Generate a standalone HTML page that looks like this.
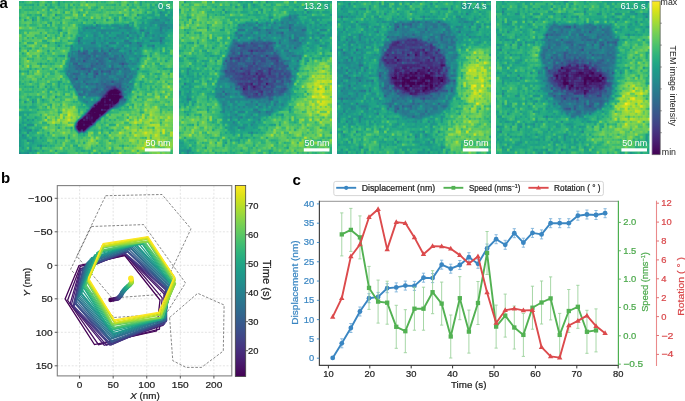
<!DOCTYPE html>
<html><head><meta charset="utf-8"><style>
html,body{margin:0;padding:0;background:#fff;width:685px;height:401px;overflow:hidden}
svg{display:block;opacity:0.999}
text{font-family:"Liberation Sans",sans-serif}
</style></head><body>
<svg width="685" height="401" viewBox="0 0 685 401" font-family="Liberation Sans, sans-serif">
<defs>
<pattern id="npt" width="81.9" height="81.9" patternUnits="userSpaceOnUse"><path d="M35.84 12.80h2.56v2.56h-2.56zM12.80 17.92h2.56v2.56h-2.56zM74.24 20.48h2.56v2.56h-2.56zM76.80 23.04h2.56v2.56h-2.56zM38.40 28.16h2.56v2.56h-2.56zM40.96 28.16h2.56v2.56h-2.56zM58.88 38.40h2.56v2.56h-2.56zM38.40 43.52h2.56v2.56h-2.56zM51.20 43.52h2.56v2.56h-2.56zM10.24 46.08h2.56v2.56h-2.56zM20.48 61.44h2.56v2.56h-2.56zM76.80 71.68h2.56v2.56h-2.56zM56.32 76.80h2.56v2.56h-2.56z" fill="#000000"/><path d="M23.04 15.36h2.56v2.56h-2.56zM5.12 17.92h2.56v2.56h-2.56zM28.16 40.96h2.56v2.56h-2.56zM28.16 48.64h2.56v2.56h-2.56zM64.00 51.20h2.56v2.56h-2.56zM43.52 53.76h2.56v2.56h-2.56zM64.00 58.88h2.56v2.56h-2.56zM0.00 69.12h2.56v2.56h-2.56zM7.68 69.12h2.56v2.56h-2.56z" fill="#111111"/><path d="M38.40 0.00h2.56v2.56h-2.56zM25.60 2.56h2.56v2.56h-2.56zM38.40 2.56h2.56v2.56h-2.56zM76.80 5.12h2.56v2.56h-2.56zM58.88 10.24h2.56v2.56h-2.56zM20.48 12.80h2.56v2.56h-2.56zM30.72 20.48h2.56v2.56h-2.56zM25.60 33.28h2.56v2.56h-2.56zM35.84 40.96h2.56v2.56h-2.56zM71.68 40.96h2.56v2.56h-2.56zM74.24 40.96h2.56v2.56h-2.56zM5.12 43.52h2.56v2.56h-2.56zM2.56 51.20h2.56v2.56h-2.56zM40.96 53.76h2.56v2.56h-2.56zM48.64 53.76h2.56v2.56h-2.56zM10.24 66.56h2.56v2.56h-2.56zM35.84 66.56h2.56v2.56h-2.56zM69.12 69.12h2.56v2.56h-2.56zM46.08 71.68h2.56v2.56h-2.56zM74.24 74.24h2.56v2.56h-2.56zM10.24 79.36h2.56v2.56h-2.56zM38.40 79.36h2.56v2.56h-2.56z" fill="#222222"/><path d="M66.56 0.00h2.56v2.56h-2.56zM12.80 2.56h2.56v2.56h-2.56zM28.16 7.68h2.56v2.56h-2.56zM43.52 10.24h2.56v2.56h-2.56zM12.80 15.36h2.56v2.56h-2.56zM66.56 17.92h2.56v2.56h-2.56zM25.60 23.04h2.56v2.56h-2.56zM64.00 23.04h2.56v2.56h-2.56zM58.88 25.60h2.56v2.56h-2.56zM66.56 25.60h2.56v2.56h-2.56zM74.24 25.60h2.56v2.56h-2.56zM58.88 28.16h2.56v2.56h-2.56zM46.08 30.72h2.56v2.56h-2.56zM43.52 33.28h2.56v2.56h-2.56zM58.88 35.84h2.56v2.56h-2.56zM23.04 38.40h2.56v2.56h-2.56zM25.60 38.40h2.56v2.56h-2.56zM7.68 40.96h2.56v2.56h-2.56zM10.24 40.96h2.56v2.56h-2.56zM12.80 40.96h2.56v2.56h-2.56zM46.08 43.52h2.56v2.56h-2.56zM0.00 46.08h2.56v2.56h-2.56zM7.68 48.64h2.56v2.56h-2.56zM58.88 48.64h2.56v2.56h-2.56zM23.04 51.20h2.56v2.56h-2.56zM20.48 53.76h2.56v2.56h-2.56zM7.68 56.32h2.56v2.56h-2.56zM25.60 61.44h2.56v2.56h-2.56zM56.32 61.44h2.56v2.56h-2.56zM15.36 66.56h2.56v2.56h-2.56zM61.44 66.56h2.56v2.56h-2.56zM64.00 66.56h2.56v2.56h-2.56zM5.12 69.12h2.56v2.56h-2.56zM40.96 69.12h2.56v2.56h-2.56zM43.52 69.12h2.56v2.56h-2.56zM74.24 69.12h2.56v2.56h-2.56zM53.76 71.68h2.56v2.56h-2.56zM66.56 71.68h2.56v2.56h-2.56zM23.04 74.24h2.56v2.56h-2.56zM40.96 79.36h2.56v2.56h-2.56z" fill="#333333"/><path d="M2.56 0.00h2.56v2.56h-2.56zM28.16 0.00h2.56v2.56h-2.56zM43.52 0.00h2.56v2.56h-2.56zM76.80 0.00h2.56v2.56h-2.56zM5.12 2.56h2.56v2.56h-2.56zM10.24 2.56h2.56v2.56h-2.56zM17.92 2.56h2.56v2.56h-2.56zM30.72 2.56h2.56v2.56h-2.56zM48.64 2.56h2.56v2.56h-2.56zM53.76 2.56h2.56v2.56h-2.56zM28.16 5.12h2.56v2.56h-2.56zM30.72 5.12h2.56v2.56h-2.56zM33.28 5.12h2.56v2.56h-2.56zM43.52 5.12h2.56v2.56h-2.56zM48.64 5.12h2.56v2.56h-2.56zM51.20 5.12h2.56v2.56h-2.56zM56.32 5.12h2.56v2.56h-2.56zM74.24 5.12h2.56v2.56h-2.56zM64.00 7.68h2.56v2.56h-2.56zM71.68 7.68h2.56v2.56h-2.56zM74.24 7.68h2.56v2.56h-2.56zM51.20 10.24h2.56v2.56h-2.56zM10.24 12.80h2.56v2.56h-2.56zM15.36 15.36h2.56v2.56h-2.56zM33.28 15.36h2.56v2.56h-2.56zM15.36 17.92h2.56v2.56h-2.56zM23.04 17.92h2.56v2.56h-2.56zM53.76 17.92h2.56v2.56h-2.56zM40.96 20.48h2.56v2.56h-2.56zM61.44 20.48h2.56v2.56h-2.56zM30.72 23.04h2.56v2.56h-2.56zM58.88 23.04h2.56v2.56h-2.56zM61.44 23.04h2.56v2.56h-2.56zM71.68 23.04h2.56v2.56h-2.56zM79.36 23.04h2.56v2.56h-2.56zM17.92 25.60h2.56v2.56h-2.56zM38.40 25.60h2.56v2.56h-2.56zM71.68 25.60h2.56v2.56h-2.56zM20.48 30.72h2.56v2.56h-2.56zM38.40 30.72h2.56v2.56h-2.56zM15.36 33.28h2.56v2.56h-2.56zM35.84 33.28h2.56v2.56h-2.56zM74.24 33.28h2.56v2.56h-2.56zM7.68 35.84h2.56v2.56h-2.56zM12.80 35.84h2.56v2.56h-2.56zM28.16 35.84h2.56v2.56h-2.56zM48.64 38.40h2.56v2.56h-2.56zM74.24 38.40h2.56v2.56h-2.56zM38.40 40.96h2.56v2.56h-2.56zM58.88 40.96h2.56v2.56h-2.56zM20.48 43.52h2.56v2.56h-2.56zM7.68 46.08h2.56v2.56h-2.56zM23.04 46.08h2.56v2.56h-2.56zM51.20 46.08h2.56v2.56h-2.56zM74.24 46.08h2.56v2.56h-2.56zM66.56 48.64h2.56v2.56h-2.56zM28.16 51.20h2.56v2.56h-2.56zM48.64 51.20h2.56v2.56h-2.56zM38.40 53.76h2.56v2.56h-2.56zM69.12 53.76h2.56v2.56h-2.56zM12.80 56.32h2.56v2.56h-2.56zM35.84 56.32h2.56v2.56h-2.56zM76.80 56.32h2.56v2.56h-2.56zM28.16 58.88h2.56v2.56h-2.56zM17.92 61.44h2.56v2.56h-2.56zM30.72 61.44h2.56v2.56h-2.56zM53.76 61.44h2.56v2.56h-2.56zM76.80 61.44h2.56v2.56h-2.56zM10.24 64.00h2.56v2.56h-2.56zM58.88 64.00h2.56v2.56h-2.56zM71.68 64.00h2.56v2.56h-2.56zM23.04 66.56h2.56v2.56h-2.56zM56.32 66.56h2.56v2.56h-2.56zM69.12 66.56h2.56v2.56h-2.56zM46.08 69.12h2.56v2.56h-2.56zM76.80 69.12h2.56v2.56h-2.56zM7.68 71.68h2.56v2.56h-2.56zM56.32 71.68h2.56v2.56h-2.56zM74.24 71.68h2.56v2.56h-2.56zM64.00 79.36h2.56v2.56h-2.56z" fill="#444444"/><path d="M0.00 0.00h2.56v2.56h-2.56zM17.92 0.00h2.56v2.56h-2.56zM30.72 0.00h2.56v2.56h-2.56zM51.20 0.00h2.56v2.56h-2.56zM71.68 0.00h2.56v2.56h-2.56zM58.88 2.56h2.56v2.56h-2.56zM23.04 5.12h2.56v2.56h-2.56zM40.96 5.12h2.56v2.56h-2.56zM10.24 7.68h2.56v2.56h-2.56zM35.84 7.68h2.56v2.56h-2.56zM48.64 7.68h2.56v2.56h-2.56zM28.16 10.24h2.56v2.56h-2.56zM69.12 10.24h2.56v2.56h-2.56zM79.36 10.24h2.56v2.56h-2.56zM7.68 12.80h2.56v2.56h-2.56zM15.36 12.80h2.56v2.56h-2.56zM28.16 12.80h2.56v2.56h-2.56zM61.44 12.80h2.56v2.56h-2.56zM66.56 12.80h2.56v2.56h-2.56zM0.00 15.36h2.56v2.56h-2.56zM40.96 15.36h2.56v2.56h-2.56zM64.00 15.36h2.56v2.56h-2.56zM56.32 17.92h2.56v2.56h-2.56zM64.00 17.92h2.56v2.56h-2.56zM28.16 20.48h2.56v2.56h-2.56zM5.12 23.04h2.56v2.56h-2.56zM10.24 23.04h2.56v2.56h-2.56zM12.80 23.04h2.56v2.56h-2.56zM15.36 23.04h2.56v2.56h-2.56zM38.40 23.04h2.56v2.56h-2.56zM69.12 23.04h2.56v2.56h-2.56zM23.04 25.60h2.56v2.56h-2.56zM25.60 25.60h2.56v2.56h-2.56zM28.16 25.60h2.56v2.56h-2.56zM0.00 28.16h2.56v2.56h-2.56zM2.56 28.16h2.56v2.56h-2.56zM0.00 30.72h2.56v2.56h-2.56zM28.16 30.72h2.56v2.56h-2.56zM33.28 30.72h2.56v2.56h-2.56zM51.20 33.28h2.56v2.56h-2.56zM61.44 35.84h2.56v2.56h-2.56zM79.36 35.84h2.56v2.56h-2.56zM2.56 38.40h2.56v2.56h-2.56zM40.96 38.40h2.56v2.56h-2.56zM51.20 38.40h2.56v2.56h-2.56zM0.00 40.96h2.56v2.56h-2.56zM23.04 40.96h2.56v2.56h-2.56zM25.60 40.96h2.56v2.56h-2.56zM40.96 40.96h2.56v2.56h-2.56zM48.64 43.52h2.56v2.56h-2.56zM15.36 46.08h2.56v2.56h-2.56zM17.92 46.08h2.56v2.56h-2.56zM35.84 46.08h2.56v2.56h-2.56zM64.00 46.08h2.56v2.56h-2.56zM0.00 48.64h2.56v2.56h-2.56zM33.28 48.64h2.56v2.56h-2.56zM64.00 48.64h2.56v2.56h-2.56zM74.24 48.64h2.56v2.56h-2.56zM58.88 51.20h2.56v2.56h-2.56zM61.44 51.20h2.56v2.56h-2.56zM66.56 51.20h2.56v2.56h-2.56zM74.24 51.20h2.56v2.56h-2.56zM5.12 53.76h2.56v2.56h-2.56zM33.28 53.76h2.56v2.56h-2.56zM74.24 53.76h2.56v2.56h-2.56zM10.24 56.32h2.56v2.56h-2.56zM23.04 56.32h2.56v2.56h-2.56zM51.20 56.32h2.56v2.56h-2.56zM53.76 56.32h2.56v2.56h-2.56zM66.56 56.32h2.56v2.56h-2.56zM35.84 58.88h2.56v2.56h-2.56zM79.36 58.88h2.56v2.56h-2.56zM0.00 61.44h2.56v2.56h-2.56zM23.04 61.44h2.56v2.56h-2.56zM33.28 61.44h2.56v2.56h-2.56zM20.48 64.00h2.56v2.56h-2.56zM79.36 66.56h2.56v2.56h-2.56zM2.56 69.12h2.56v2.56h-2.56zM30.72 69.12h2.56v2.56h-2.56zM30.72 71.68h2.56v2.56h-2.56zM33.28 71.68h2.56v2.56h-2.56zM58.88 71.68h2.56v2.56h-2.56zM46.08 74.24h2.56v2.56h-2.56zM56.32 74.24h2.56v2.56h-2.56zM20.48 76.80h2.56v2.56h-2.56zM53.76 76.80h2.56v2.56h-2.56zM0.00 79.36h2.56v2.56h-2.56z" fill="#555555"/><path d="M15.36 0.00h2.56v2.56h-2.56zM46.08 0.00h2.56v2.56h-2.56zM48.64 0.00h2.56v2.56h-2.56zM58.88 0.00h2.56v2.56h-2.56zM7.68 2.56h2.56v2.56h-2.56zM76.80 2.56h2.56v2.56h-2.56zM2.56 5.12h2.56v2.56h-2.56zM12.80 5.12h2.56v2.56h-2.56zM38.40 5.12h2.56v2.56h-2.56zM64.00 5.12h2.56v2.56h-2.56zM71.68 5.12h2.56v2.56h-2.56zM0.00 7.68h2.56v2.56h-2.56zM5.12 7.68h2.56v2.56h-2.56zM7.68 7.68h2.56v2.56h-2.56zM12.80 7.68h2.56v2.56h-2.56zM17.92 7.68h2.56v2.56h-2.56zM43.52 7.68h2.56v2.56h-2.56zM46.08 7.68h2.56v2.56h-2.56zM0.00 10.24h2.56v2.56h-2.56zM30.72 10.24h2.56v2.56h-2.56zM61.44 10.24h2.56v2.56h-2.56zM64.00 10.24h2.56v2.56h-2.56zM76.80 10.24h2.56v2.56h-2.56zM17.92 12.80h2.56v2.56h-2.56zM38.40 12.80h2.56v2.56h-2.56zM40.96 12.80h2.56v2.56h-2.56zM58.88 12.80h2.56v2.56h-2.56zM69.12 12.80h2.56v2.56h-2.56zM20.48 15.36h2.56v2.56h-2.56zM25.60 15.36h2.56v2.56h-2.56zM25.60 17.92h2.56v2.56h-2.56zM28.16 17.92h2.56v2.56h-2.56zM38.40 17.92h2.56v2.56h-2.56zM71.68 17.92h2.56v2.56h-2.56zM74.24 17.92h2.56v2.56h-2.56zM12.80 20.48h2.56v2.56h-2.56zM51.20 20.48h2.56v2.56h-2.56zM23.04 23.04h2.56v2.56h-2.56zM40.96 23.04h2.56v2.56h-2.56zM66.56 23.04h2.56v2.56h-2.56zM64.00 25.60h2.56v2.56h-2.56zM69.12 25.60h2.56v2.56h-2.56zM5.12 28.16h2.56v2.56h-2.56zM7.68 28.16h2.56v2.56h-2.56zM10.24 28.16h2.56v2.56h-2.56zM15.36 28.16h2.56v2.56h-2.56zM25.60 28.16h2.56v2.56h-2.56zM28.16 28.16h2.56v2.56h-2.56zM64.00 28.16h2.56v2.56h-2.56zM76.80 28.16h2.56v2.56h-2.56zM79.36 28.16h2.56v2.56h-2.56zM2.56 30.72h2.56v2.56h-2.56zM7.68 30.72h2.56v2.56h-2.56zM43.52 30.72h2.56v2.56h-2.56zM58.88 30.72h2.56v2.56h-2.56zM74.24 30.72h2.56v2.56h-2.56zM2.56 33.28h2.56v2.56h-2.56zM5.12 33.28h2.56v2.56h-2.56zM17.92 33.28h2.56v2.56h-2.56zM20.48 33.28h2.56v2.56h-2.56zM76.80 33.28h2.56v2.56h-2.56zM17.92 35.84h2.56v2.56h-2.56zM20.48 35.84h2.56v2.56h-2.56zM30.72 35.84h2.56v2.56h-2.56zM35.84 35.84h2.56v2.56h-2.56zM74.24 35.84h2.56v2.56h-2.56zM61.44 40.96h2.56v2.56h-2.56zM2.56 43.52h2.56v2.56h-2.56zM28.16 43.52h2.56v2.56h-2.56zM35.84 43.52h2.56v2.56h-2.56zM40.96 43.52h2.56v2.56h-2.56zM64.00 43.52h2.56v2.56h-2.56zM5.12 46.08h2.56v2.56h-2.56zM69.12 46.08h2.56v2.56h-2.56zM71.68 46.08h2.56v2.56h-2.56zM76.80 46.08h2.56v2.56h-2.56zM76.80 48.64h2.56v2.56h-2.56zM5.12 51.20h2.56v2.56h-2.56zM76.80 51.20h2.56v2.56h-2.56zM2.56 53.76h2.56v2.56h-2.56zM12.80 53.76h2.56v2.56h-2.56zM15.36 53.76h2.56v2.56h-2.56zM23.04 53.76h2.56v2.56h-2.56zM25.60 53.76h2.56v2.56h-2.56zM61.44 53.76h2.56v2.56h-2.56zM66.56 53.76h2.56v2.56h-2.56zM0.00 56.32h2.56v2.56h-2.56zM25.60 56.32h2.56v2.56h-2.56zM0.00 58.88h2.56v2.56h-2.56zM12.80 58.88h2.56v2.56h-2.56zM40.96 58.88h2.56v2.56h-2.56zM51.20 58.88h2.56v2.56h-2.56zM58.88 58.88h2.56v2.56h-2.56zM28.16 61.44h2.56v2.56h-2.56zM46.08 61.44h2.56v2.56h-2.56zM71.68 61.44h2.56v2.56h-2.56zM2.56 64.00h2.56v2.56h-2.56zM56.32 64.00h2.56v2.56h-2.56zM61.44 64.00h2.56v2.56h-2.56zM74.24 64.00h2.56v2.56h-2.56zM7.68 66.56h2.56v2.56h-2.56zM46.08 66.56h2.56v2.56h-2.56zM66.56 66.56h2.56v2.56h-2.56zM71.68 66.56h2.56v2.56h-2.56zM12.80 69.12h2.56v2.56h-2.56zM28.16 69.12h2.56v2.56h-2.56zM33.28 69.12h2.56v2.56h-2.56zM38.40 69.12h2.56v2.56h-2.56zM0.00 71.68h2.56v2.56h-2.56zM12.80 71.68h2.56v2.56h-2.56zM23.04 71.68h2.56v2.56h-2.56zM0.00 74.24h2.56v2.56h-2.56zM5.12 74.24h2.56v2.56h-2.56zM43.52 74.24h2.56v2.56h-2.56zM51.20 74.24h2.56v2.56h-2.56zM2.56 76.80h2.56v2.56h-2.56zM17.92 76.80h2.56v2.56h-2.56zM25.60 76.80h2.56v2.56h-2.56zM40.96 76.80h2.56v2.56h-2.56zM46.08 76.80h2.56v2.56h-2.56zM66.56 76.80h2.56v2.56h-2.56zM5.12 79.36h2.56v2.56h-2.56zM17.92 79.36h2.56v2.56h-2.56z" fill="#666666"/><path d="M5.12 0.00h2.56v2.56h-2.56zM40.96 0.00h2.56v2.56h-2.56zM56.32 0.00h2.56v2.56h-2.56zM69.12 0.00h2.56v2.56h-2.56zM74.24 0.00h2.56v2.56h-2.56zM0.00 2.56h2.56v2.56h-2.56zM2.56 2.56h2.56v2.56h-2.56zM40.96 2.56h2.56v2.56h-2.56zM43.52 2.56h2.56v2.56h-2.56zM56.32 2.56h2.56v2.56h-2.56zM79.36 2.56h2.56v2.56h-2.56zM7.68 5.12h2.56v2.56h-2.56zM15.36 5.12h2.56v2.56h-2.56zM58.88 5.12h2.56v2.56h-2.56zM61.44 5.12h2.56v2.56h-2.56zM66.56 5.12h2.56v2.56h-2.56zM79.36 5.12h2.56v2.56h-2.56zM56.32 7.68h2.56v2.56h-2.56zM69.12 7.68h2.56v2.56h-2.56zM76.80 7.68h2.56v2.56h-2.56zM71.68 10.24h2.56v2.56h-2.56zM74.24 10.24h2.56v2.56h-2.56zM46.08 12.80h2.56v2.56h-2.56zM48.64 12.80h2.56v2.56h-2.56zM51.20 12.80h2.56v2.56h-2.56zM10.24 15.36h2.56v2.56h-2.56zM43.52 15.36h2.56v2.56h-2.56zM58.88 15.36h2.56v2.56h-2.56zM61.44 15.36h2.56v2.56h-2.56zM69.12 15.36h2.56v2.56h-2.56zM74.24 15.36h2.56v2.56h-2.56zM0.00 17.92h2.56v2.56h-2.56zM20.48 17.92h2.56v2.56h-2.56zM35.84 17.92h2.56v2.56h-2.56zM40.96 17.92h2.56v2.56h-2.56zM51.20 17.92h2.56v2.56h-2.56zM76.80 17.92h2.56v2.56h-2.56zM15.36 20.48h2.56v2.56h-2.56zM20.48 20.48h2.56v2.56h-2.56zM48.64 20.48h2.56v2.56h-2.56zM56.32 20.48h2.56v2.56h-2.56zM58.88 20.48h2.56v2.56h-2.56zM66.56 20.48h2.56v2.56h-2.56zM79.36 20.48h2.56v2.56h-2.56zM0.00 23.04h2.56v2.56h-2.56zM35.84 23.04h2.56v2.56h-2.56zM48.64 23.04h2.56v2.56h-2.56zM56.32 23.04h2.56v2.56h-2.56zM20.48 25.60h2.56v2.56h-2.56zM30.72 25.60h2.56v2.56h-2.56zM33.28 25.60h2.56v2.56h-2.56zM40.96 25.60h2.56v2.56h-2.56zM61.44 25.60h2.56v2.56h-2.56zM79.36 25.60h2.56v2.56h-2.56zM12.80 28.16h2.56v2.56h-2.56zM33.28 28.16h2.56v2.56h-2.56zM35.84 28.16h2.56v2.56h-2.56zM30.72 30.72h2.56v2.56h-2.56zM61.44 30.72h2.56v2.56h-2.56zM76.80 30.72h2.56v2.56h-2.56zM38.40 33.28h2.56v2.56h-2.56zM56.32 33.28h2.56v2.56h-2.56zM2.56 35.84h2.56v2.56h-2.56zM5.12 38.40h2.56v2.56h-2.56zM10.24 38.40h2.56v2.56h-2.56zM53.76 38.40h2.56v2.56h-2.56zM66.56 38.40h2.56v2.56h-2.56zM79.36 38.40h2.56v2.56h-2.56zM17.92 40.96h2.56v2.56h-2.56zM20.48 40.96h2.56v2.56h-2.56zM43.52 40.96h2.56v2.56h-2.56zM0.00 43.52h2.56v2.56h-2.56zM17.92 43.52h2.56v2.56h-2.56zM61.44 43.52h2.56v2.56h-2.56zM66.56 43.52h2.56v2.56h-2.56zM69.12 43.52h2.56v2.56h-2.56zM71.68 43.52h2.56v2.56h-2.56zM74.24 43.52h2.56v2.56h-2.56zM28.16 46.08h2.56v2.56h-2.56zM40.96 46.08h2.56v2.56h-2.56zM46.08 46.08h2.56v2.56h-2.56zM58.88 46.08h2.56v2.56h-2.56zM79.36 46.08h2.56v2.56h-2.56zM51.20 48.64h2.56v2.56h-2.56zM20.48 51.20h2.56v2.56h-2.56zM30.72 51.20h2.56v2.56h-2.56zM71.68 51.20h2.56v2.56h-2.56zM79.36 51.20h2.56v2.56h-2.56zM0.00 53.76h2.56v2.56h-2.56zM30.72 53.76h2.56v2.56h-2.56zM58.88 53.76h2.56v2.56h-2.56zM64.00 56.32h2.56v2.56h-2.56zM79.36 56.32h2.56v2.56h-2.56zM20.48 58.88h2.56v2.56h-2.56zM33.28 58.88h2.56v2.56h-2.56zM53.76 58.88h2.56v2.56h-2.56zM10.24 61.44h2.56v2.56h-2.56zM48.64 61.44h2.56v2.56h-2.56zM30.72 64.00h2.56v2.56h-2.56zM43.52 64.00h2.56v2.56h-2.56zM48.64 64.00h2.56v2.56h-2.56zM12.80 66.56h2.56v2.56h-2.56zM17.92 66.56h2.56v2.56h-2.56zM25.60 66.56h2.56v2.56h-2.56zM28.16 66.56h2.56v2.56h-2.56zM43.52 66.56h2.56v2.56h-2.56zM58.88 66.56h2.56v2.56h-2.56zM23.04 69.12h2.56v2.56h-2.56zM48.64 69.12h2.56v2.56h-2.56zM58.88 69.12h2.56v2.56h-2.56zM40.96 71.68h2.56v2.56h-2.56zM43.52 71.68h2.56v2.56h-2.56zM51.20 71.68h2.56v2.56h-2.56zM2.56 74.24h2.56v2.56h-2.56zM15.36 74.24h2.56v2.56h-2.56zM28.16 74.24h2.56v2.56h-2.56zM0.00 76.80h2.56v2.56h-2.56zM69.12 76.80h2.56v2.56h-2.56zM12.80 79.36h2.56v2.56h-2.56zM30.72 79.36h2.56v2.56h-2.56zM33.28 79.36h2.56v2.56h-2.56zM35.84 79.36h2.56v2.56h-2.56zM46.08 79.36h2.56v2.56h-2.56zM51.20 79.36h2.56v2.56h-2.56zM53.76 79.36h2.56v2.56h-2.56z" fill="#777777"/><path d="M12.80 0.00h2.56v2.56h-2.56zM25.60 0.00h2.56v2.56h-2.56zM35.84 0.00h2.56v2.56h-2.56zM79.36 0.00h2.56v2.56h-2.56zM15.36 2.56h2.56v2.56h-2.56zM28.16 2.56h2.56v2.56h-2.56zM33.28 2.56h2.56v2.56h-2.56zM35.84 2.56h2.56v2.56h-2.56zM5.12 5.12h2.56v2.56h-2.56zM17.92 5.12h2.56v2.56h-2.56zM20.48 5.12h2.56v2.56h-2.56zM2.56 7.68h2.56v2.56h-2.56zM15.36 7.68h2.56v2.56h-2.56zM20.48 7.68h2.56v2.56h-2.56zM40.96 7.68h2.56v2.56h-2.56zM51.20 7.68h2.56v2.56h-2.56zM66.56 7.68h2.56v2.56h-2.56zM2.56 10.24h2.56v2.56h-2.56zM7.68 10.24h2.56v2.56h-2.56zM23.04 10.24h2.56v2.56h-2.56zM40.96 10.24h2.56v2.56h-2.56zM56.32 10.24h2.56v2.56h-2.56zM0.00 12.80h2.56v2.56h-2.56zM12.80 12.80h2.56v2.56h-2.56zM71.68 12.80h2.56v2.56h-2.56zM5.12 15.36h2.56v2.56h-2.56zM28.16 15.36h2.56v2.56h-2.56zM53.76 15.36h2.56v2.56h-2.56zM66.56 15.36h2.56v2.56h-2.56zM7.68 17.92h2.56v2.56h-2.56zM61.44 17.92h2.56v2.56h-2.56zM69.12 17.92h2.56v2.56h-2.56zM79.36 17.92h2.56v2.56h-2.56zM0.00 20.48h2.56v2.56h-2.56zM35.84 20.48h2.56v2.56h-2.56zM53.76 20.48h2.56v2.56h-2.56zM69.12 20.48h2.56v2.56h-2.56zM71.68 20.48h2.56v2.56h-2.56zM2.56 23.04h2.56v2.56h-2.56zM17.92 23.04h2.56v2.56h-2.56zM15.36 25.60h2.56v2.56h-2.56zM46.08 25.60h2.56v2.56h-2.56zM76.80 25.60h2.56v2.56h-2.56zM46.08 28.16h2.56v2.56h-2.56zM53.76 28.16h2.56v2.56h-2.56zM56.32 28.16h2.56v2.56h-2.56zM69.12 28.16h2.56v2.56h-2.56zM71.68 28.16h2.56v2.56h-2.56zM35.84 30.72h2.56v2.56h-2.56zM71.68 30.72h2.56v2.56h-2.56zM23.04 33.28h2.56v2.56h-2.56zM30.72 33.28h2.56v2.56h-2.56zM46.08 33.28h2.56v2.56h-2.56zM64.00 33.28h2.56v2.56h-2.56zM10.24 35.84h2.56v2.56h-2.56zM23.04 35.84h2.56v2.56h-2.56zM40.96 35.84h2.56v2.56h-2.56zM43.52 35.84h2.56v2.56h-2.56zM56.32 35.84h2.56v2.56h-2.56zM56.32 38.40h2.56v2.56h-2.56zM61.44 38.40h2.56v2.56h-2.56zM64.00 38.40h2.56v2.56h-2.56zM69.12 38.40h2.56v2.56h-2.56zM2.56 40.96h2.56v2.56h-2.56zM30.72 40.96h2.56v2.56h-2.56zM33.28 40.96h2.56v2.56h-2.56zM46.08 40.96h2.56v2.56h-2.56zM66.56 40.96h2.56v2.56h-2.56zM69.12 40.96h2.56v2.56h-2.56zM15.36 43.52h2.56v2.56h-2.56zM30.72 43.52h2.56v2.56h-2.56zM33.28 43.52h2.56v2.56h-2.56zM58.88 43.52h2.56v2.56h-2.56zM76.80 43.52h2.56v2.56h-2.56zM2.56 46.08h2.56v2.56h-2.56zM25.60 46.08h2.56v2.56h-2.56zM43.52 46.08h2.56v2.56h-2.56zM53.76 46.08h2.56v2.56h-2.56zM66.56 46.08h2.56v2.56h-2.56zM12.80 48.64h2.56v2.56h-2.56zM15.36 48.64h2.56v2.56h-2.56zM23.04 48.64h2.56v2.56h-2.56zM25.60 48.64h2.56v2.56h-2.56zM35.84 48.64h2.56v2.56h-2.56zM38.40 48.64h2.56v2.56h-2.56zM0.00 51.20h2.56v2.56h-2.56zM38.40 51.20h2.56v2.56h-2.56zM40.96 51.20h2.56v2.56h-2.56zM51.20 51.20h2.56v2.56h-2.56zM28.16 53.76h2.56v2.56h-2.56zM35.84 53.76h2.56v2.56h-2.56zM64.00 53.76h2.56v2.56h-2.56zM15.36 56.32h2.56v2.56h-2.56zM20.48 56.32h2.56v2.56h-2.56zM33.28 56.32h2.56v2.56h-2.56zM40.96 56.32h2.56v2.56h-2.56zM43.52 56.32h2.56v2.56h-2.56zM58.88 56.32h2.56v2.56h-2.56zM69.12 56.32h2.56v2.56h-2.56zM2.56 58.88h2.56v2.56h-2.56zM10.24 58.88h2.56v2.56h-2.56zM15.36 58.88h2.56v2.56h-2.56zM17.92 58.88h2.56v2.56h-2.56zM23.04 58.88h2.56v2.56h-2.56zM25.60 58.88h2.56v2.56h-2.56zM48.64 58.88h2.56v2.56h-2.56zM66.56 58.88h2.56v2.56h-2.56zM74.24 58.88h2.56v2.56h-2.56zM2.56 61.44h2.56v2.56h-2.56zM38.40 61.44h2.56v2.56h-2.56zM40.96 61.44h2.56v2.56h-2.56zM74.24 61.44h2.56v2.56h-2.56zM79.36 61.44h2.56v2.56h-2.56zM28.16 64.00h2.56v2.56h-2.56zM53.76 64.00h2.56v2.56h-2.56zM76.80 64.00h2.56v2.56h-2.56zM79.36 64.00h2.56v2.56h-2.56zM0.00 66.56h2.56v2.56h-2.56zM5.12 66.56h2.56v2.56h-2.56zM15.36 69.12h2.56v2.56h-2.56zM20.48 69.12h2.56v2.56h-2.56zM25.60 69.12h2.56v2.56h-2.56zM64.00 69.12h2.56v2.56h-2.56zM5.12 71.68h2.56v2.56h-2.56zM10.24 71.68h2.56v2.56h-2.56zM25.60 71.68h2.56v2.56h-2.56zM17.92 74.24h2.56v2.56h-2.56zM30.72 74.24h2.56v2.56h-2.56zM33.28 74.24h2.56v2.56h-2.56zM48.64 74.24h2.56v2.56h-2.56zM58.88 74.24h2.56v2.56h-2.56zM66.56 74.24h2.56v2.56h-2.56zM79.36 74.24h2.56v2.56h-2.56zM5.12 76.80h2.56v2.56h-2.56zM10.24 76.80h2.56v2.56h-2.56zM28.16 76.80h2.56v2.56h-2.56zM48.64 76.80h2.56v2.56h-2.56zM51.20 76.80h2.56v2.56h-2.56zM64.00 76.80h2.56v2.56h-2.56zM74.24 76.80h2.56v2.56h-2.56zM79.36 76.80h2.56v2.56h-2.56zM7.68 79.36h2.56v2.56h-2.56zM20.48 79.36h2.56v2.56h-2.56zM25.60 79.36h2.56v2.56h-2.56zM58.88 79.36h2.56v2.56h-2.56zM79.36 79.36h2.56v2.56h-2.56z" fill="#888888"/><path d="M7.68 0.00h2.56v2.56h-2.56zM53.76 0.00h2.56v2.56h-2.56zM61.44 0.00h2.56v2.56h-2.56zM64.00 2.56h2.56v2.56h-2.56zM69.12 2.56h2.56v2.56h-2.56zM10.24 5.12h2.56v2.56h-2.56zM46.08 5.12h2.56v2.56h-2.56zM53.76 5.12h2.56v2.56h-2.56zM25.60 7.68h2.56v2.56h-2.56zM33.28 7.68h2.56v2.56h-2.56zM58.88 7.68h2.56v2.56h-2.56zM79.36 7.68h2.56v2.56h-2.56zM12.80 10.24h2.56v2.56h-2.56zM15.36 10.24h2.56v2.56h-2.56zM20.48 10.24h2.56v2.56h-2.56zM35.84 10.24h2.56v2.56h-2.56zM5.12 12.80h2.56v2.56h-2.56zM43.52 12.80h2.56v2.56h-2.56zM74.24 12.80h2.56v2.56h-2.56zM79.36 12.80h2.56v2.56h-2.56zM2.56 15.36h2.56v2.56h-2.56zM33.28 17.92h2.56v2.56h-2.56zM46.08 17.92h2.56v2.56h-2.56zM48.64 17.92h2.56v2.56h-2.56zM58.88 17.92h2.56v2.56h-2.56zM17.92 20.48h2.56v2.56h-2.56zM23.04 20.48h2.56v2.56h-2.56zM76.80 20.48h2.56v2.56h-2.56zM43.52 23.04h2.56v2.56h-2.56zM74.24 23.04h2.56v2.56h-2.56zM5.12 25.60h2.56v2.56h-2.56zM7.68 25.60h2.56v2.56h-2.56zM12.80 25.60h2.56v2.56h-2.56zM17.92 28.16h2.56v2.56h-2.56zM20.48 28.16h2.56v2.56h-2.56zM23.04 28.16h2.56v2.56h-2.56zM30.72 28.16h2.56v2.56h-2.56zM43.52 28.16h2.56v2.56h-2.56zM66.56 28.16h2.56v2.56h-2.56zM23.04 30.72h2.56v2.56h-2.56zM53.76 30.72h2.56v2.56h-2.56zM56.32 30.72h2.56v2.56h-2.56zM33.28 33.28h2.56v2.56h-2.56zM61.44 33.28h2.56v2.56h-2.56zM15.36 35.84h2.56v2.56h-2.56zM46.08 35.84h2.56v2.56h-2.56zM51.20 35.84h2.56v2.56h-2.56zM53.76 35.84h2.56v2.56h-2.56zM69.12 35.84h2.56v2.56h-2.56zM71.68 35.84h2.56v2.56h-2.56zM76.80 35.84h2.56v2.56h-2.56zM0.00 38.40h2.56v2.56h-2.56zM7.68 38.40h2.56v2.56h-2.56zM12.80 38.40h2.56v2.56h-2.56zM15.36 38.40h2.56v2.56h-2.56zM17.92 38.40h2.56v2.56h-2.56zM28.16 38.40h2.56v2.56h-2.56zM71.68 38.40h2.56v2.56h-2.56zM76.80 38.40h2.56v2.56h-2.56zM79.36 40.96h2.56v2.56h-2.56zM7.68 43.52h2.56v2.56h-2.56zM43.52 43.52h2.56v2.56h-2.56zM56.32 43.52h2.56v2.56h-2.56zM12.80 46.08h2.56v2.56h-2.56zM20.48 46.08h2.56v2.56h-2.56zM53.76 48.64h2.56v2.56h-2.56zM10.24 51.20h2.56v2.56h-2.56zM25.60 51.20h2.56v2.56h-2.56zM35.84 51.20h2.56v2.56h-2.56zM7.68 53.76h2.56v2.56h-2.56zM51.20 53.76h2.56v2.56h-2.56zM79.36 53.76h2.56v2.56h-2.56zM2.56 56.32h2.56v2.56h-2.56zM17.92 56.32h2.56v2.56h-2.56zM38.40 56.32h2.56v2.56h-2.56zM74.24 56.32h2.56v2.56h-2.56zM30.72 58.88h2.56v2.56h-2.56zM38.40 58.88h2.56v2.56h-2.56zM46.08 58.88h2.56v2.56h-2.56zM71.68 58.88h2.56v2.56h-2.56zM7.68 61.44h2.56v2.56h-2.56zM12.80 61.44h2.56v2.56h-2.56zM15.36 61.44h2.56v2.56h-2.56zM35.84 61.44h2.56v2.56h-2.56zM61.44 61.44h2.56v2.56h-2.56zM0.00 64.00h2.56v2.56h-2.56zM33.28 64.00h2.56v2.56h-2.56zM64.00 64.00h2.56v2.56h-2.56zM20.48 66.56h2.56v2.56h-2.56zM33.28 66.56h2.56v2.56h-2.56zM38.40 66.56h2.56v2.56h-2.56zM40.96 66.56h2.56v2.56h-2.56zM48.64 66.56h2.56v2.56h-2.56zM51.20 66.56h2.56v2.56h-2.56zM53.76 66.56h2.56v2.56h-2.56zM76.80 66.56h2.56v2.56h-2.56zM10.24 69.12h2.56v2.56h-2.56zM51.20 69.12h2.56v2.56h-2.56zM53.76 69.12h2.56v2.56h-2.56zM66.56 69.12h2.56v2.56h-2.56zM20.48 74.24h2.56v2.56h-2.56zM76.80 74.24h2.56v2.56h-2.56zM7.68 76.80h2.56v2.56h-2.56zM30.72 76.80h2.56v2.56h-2.56zM35.84 76.80h2.56v2.56h-2.56zM61.44 76.80h2.56v2.56h-2.56zM71.68 76.80h2.56v2.56h-2.56zM2.56 79.36h2.56v2.56h-2.56zM15.36 79.36h2.56v2.56h-2.56zM23.04 79.36h2.56v2.56h-2.56zM43.52 79.36h2.56v2.56h-2.56zM66.56 79.36h2.56v2.56h-2.56zM71.68 79.36h2.56v2.56h-2.56z" fill="#999999"/><path d="M20.48 0.00h2.56v2.56h-2.56zM64.00 0.00h2.56v2.56h-2.56zM23.04 2.56h2.56v2.56h-2.56zM46.08 2.56h2.56v2.56h-2.56zM51.20 2.56h2.56v2.56h-2.56zM71.68 2.56h2.56v2.56h-2.56zM74.24 2.56h2.56v2.56h-2.56zM25.60 5.12h2.56v2.56h-2.56zM35.84 5.12h2.56v2.56h-2.56zM38.40 7.68h2.56v2.56h-2.56zM5.12 10.24h2.56v2.56h-2.56zM10.24 10.24h2.56v2.56h-2.56zM25.60 10.24h2.56v2.56h-2.56zM33.28 10.24h2.56v2.56h-2.56zM25.60 12.80h2.56v2.56h-2.56zM30.72 12.80h2.56v2.56h-2.56zM35.84 15.36h2.56v2.56h-2.56zM38.40 15.36h2.56v2.56h-2.56zM51.20 15.36h2.56v2.56h-2.56zM10.24 17.92h2.56v2.56h-2.56zM30.72 17.92h2.56v2.56h-2.56zM2.56 20.48h2.56v2.56h-2.56zM5.12 20.48h2.56v2.56h-2.56zM10.24 20.48h2.56v2.56h-2.56zM38.40 20.48h2.56v2.56h-2.56zM46.08 20.48h2.56v2.56h-2.56zM7.68 23.04h2.56v2.56h-2.56zM20.48 23.04h2.56v2.56h-2.56zM46.08 23.04h2.56v2.56h-2.56zM51.20 23.04h2.56v2.56h-2.56zM35.84 25.60h2.56v2.56h-2.56zM56.32 25.60h2.56v2.56h-2.56zM51.20 28.16h2.56v2.56h-2.56zM61.44 28.16h2.56v2.56h-2.56zM74.24 28.16h2.56v2.56h-2.56zM12.80 30.72h2.56v2.56h-2.56zM15.36 30.72h2.56v2.56h-2.56zM17.92 30.72h2.56v2.56h-2.56zM51.20 30.72h2.56v2.56h-2.56zM64.00 30.72h2.56v2.56h-2.56zM66.56 30.72h2.56v2.56h-2.56zM69.12 30.72h2.56v2.56h-2.56zM10.24 33.28h2.56v2.56h-2.56zM12.80 33.28h2.56v2.56h-2.56zM48.64 33.28h2.56v2.56h-2.56zM53.76 33.28h2.56v2.56h-2.56zM69.12 33.28h2.56v2.56h-2.56zM79.36 33.28h2.56v2.56h-2.56zM0.00 35.84h2.56v2.56h-2.56zM5.12 35.84h2.56v2.56h-2.56zM66.56 35.84h2.56v2.56h-2.56zM30.72 38.40h2.56v2.56h-2.56zM35.84 38.40h2.56v2.56h-2.56zM38.40 38.40h2.56v2.56h-2.56zM43.52 38.40h2.56v2.56h-2.56zM46.08 38.40h2.56v2.56h-2.56zM76.80 40.96h2.56v2.56h-2.56zM30.72 46.08h2.56v2.56h-2.56zM38.40 46.08h2.56v2.56h-2.56zM48.64 46.08h2.56v2.56h-2.56zM2.56 48.64h2.56v2.56h-2.56zM10.24 48.64h2.56v2.56h-2.56zM30.72 48.64h2.56v2.56h-2.56zM40.96 48.64h2.56v2.56h-2.56zM46.08 48.64h2.56v2.56h-2.56zM56.32 48.64h2.56v2.56h-2.56zM12.80 51.20h2.56v2.56h-2.56zM17.92 51.20h2.56v2.56h-2.56zM43.52 51.20h2.56v2.56h-2.56zM46.08 51.20h2.56v2.56h-2.56zM56.32 51.20h2.56v2.56h-2.56zM46.08 53.76h2.56v2.56h-2.56zM53.76 53.76h2.56v2.56h-2.56zM56.32 53.76h2.56v2.56h-2.56zM48.64 56.32h2.56v2.56h-2.56zM61.44 56.32h2.56v2.56h-2.56zM56.32 58.88h2.56v2.56h-2.56zM61.44 58.88h2.56v2.56h-2.56zM69.12 58.88h2.56v2.56h-2.56zM64.00 61.44h2.56v2.56h-2.56zM66.56 61.44h2.56v2.56h-2.56zM5.12 64.00h2.56v2.56h-2.56zM12.80 64.00h2.56v2.56h-2.56zM25.60 64.00h2.56v2.56h-2.56zM46.08 64.00h2.56v2.56h-2.56zM51.20 64.00h2.56v2.56h-2.56zM69.12 64.00h2.56v2.56h-2.56zM2.56 66.56h2.56v2.56h-2.56zM61.44 69.12h2.56v2.56h-2.56zM79.36 69.12h2.56v2.56h-2.56zM20.48 71.68h2.56v2.56h-2.56zM35.84 71.68h2.56v2.56h-2.56zM38.40 71.68h2.56v2.56h-2.56zM64.00 71.68h2.56v2.56h-2.56zM79.36 71.68h2.56v2.56h-2.56zM12.80 74.24h2.56v2.56h-2.56zM35.84 74.24h2.56v2.56h-2.56zM53.76 74.24h2.56v2.56h-2.56zM61.44 74.24h2.56v2.56h-2.56zM23.04 76.80h2.56v2.56h-2.56zM43.52 76.80h2.56v2.56h-2.56zM58.88 76.80h2.56v2.56h-2.56zM69.12 79.36h2.56v2.56h-2.56z" fill="#aaaaaa"/><path d="M10.24 0.00h2.56v2.56h-2.56zM20.48 2.56h2.56v2.56h-2.56zM53.76 7.68h2.56v2.56h-2.56zM48.64 10.24h2.56v2.56h-2.56zM2.56 12.80h2.56v2.56h-2.56zM76.80 12.80h2.56v2.56h-2.56zM30.72 15.36h2.56v2.56h-2.56zM56.32 15.36h2.56v2.56h-2.56zM76.80 15.36h2.56v2.56h-2.56zM79.36 15.36h2.56v2.56h-2.56zM2.56 17.92h2.56v2.56h-2.56zM17.92 17.92h2.56v2.56h-2.56zM43.52 17.92h2.56v2.56h-2.56zM7.68 20.48h2.56v2.56h-2.56zM25.60 20.48h2.56v2.56h-2.56zM33.28 20.48h2.56v2.56h-2.56zM64.00 20.48h2.56v2.56h-2.56zM28.16 23.04h2.56v2.56h-2.56zM33.28 23.04h2.56v2.56h-2.56zM2.56 25.60h2.56v2.56h-2.56zM48.64 25.60h2.56v2.56h-2.56zM51.20 25.60h2.56v2.56h-2.56zM53.76 25.60h2.56v2.56h-2.56zM10.24 30.72h2.56v2.56h-2.56zM79.36 30.72h2.56v2.56h-2.56zM7.68 33.28h2.56v2.56h-2.56zM28.16 33.28h2.56v2.56h-2.56zM58.88 33.28h2.56v2.56h-2.56zM71.68 33.28h2.56v2.56h-2.56zM33.28 35.84h2.56v2.56h-2.56zM20.48 38.40h2.56v2.56h-2.56zM48.64 40.96h2.56v2.56h-2.56zM53.76 40.96h2.56v2.56h-2.56zM64.00 40.96h2.56v2.56h-2.56zM10.24 43.52h2.56v2.56h-2.56zM23.04 43.52h2.56v2.56h-2.56zM53.76 43.52h2.56v2.56h-2.56zM33.28 46.08h2.56v2.56h-2.56zM56.32 46.08h2.56v2.56h-2.56zM20.48 48.64h2.56v2.56h-2.56zM48.64 48.64h2.56v2.56h-2.56zM15.36 51.20h2.56v2.56h-2.56zM17.92 53.76h2.56v2.56h-2.56zM71.68 53.76h2.56v2.56h-2.56zM5.12 56.32h2.56v2.56h-2.56zM28.16 56.32h2.56v2.56h-2.56zM30.72 56.32h2.56v2.56h-2.56zM5.12 58.88h2.56v2.56h-2.56zM76.80 58.88h2.56v2.56h-2.56zM5.12 61.44h2.56v2.56h-2.56zM69.12 61.44h2.56v2.56h-2.56zM15.36 64.00h2.56v2.56h-2.56zM17.92 64.00h2.56v2.56h-2.56zM23.04 64.00h2.56v2.56h-2.56zM35.84 64.00h2.56v2.56h-2.56zM38.40 64.00h2.56v2.56h-2.56zM35.84 69.12h2.56v2.56h-2.56zM56.32 69.12h2.56v2.56h-2.56zM71.68 69.12h2.56v2.56h-2.56zM28.16 71.68h2.56v2.56h-2.56zM48.64 71.68h2.56v2.56h-2.56zM7.68 74.24h2.56v2.56h-2.56zM25.60 74.24h2.56v2.56h-2.56zM38.40 74.24h2.56v2.56h-2.56zM64.00 74.24h2.56v2.56h-2.56zM71.68 74.24h2.56v2.56h-2.56zM15.36 76.80h2.56v2.56h-2.56zM33.28 76.80h2.56v2.56h-2.56zM76.80 76.80h2.56v2.56h-2.56zM56.32 79.36h2.56v2.56h-2.56zM74.24 79.36h2.56v2.56h-2.56zM76.80 79.36h2.56v2.56h-2.56z" fill="#bbbbbb"/><path d="M23.04 0.00h2.56v2.56h-2.56zM33.28 0.00h2.56v2.56h-2.56zM61.44 2.56h2.56v2.56h-2.56zM0.00 5.12h2.56v2.56h-2.56zM69.12 5.12h2.56v2.56h-2.56zM38.40 10.24h2.56v2.56h-2.56zM53.76 10.24h2.56v2.56h-2.56zM66.56 10.24h2.56v2.56h-2.56zM33.28 12.80h2.56v2.56h-2.56zM17.92 15.36h2.56v2.56h-2.56zM48.64 28.16h2.56v2.56h-2.56zM5.12 30.72h2.56v2.56h-2.56zM25.60 30.72h2.56v2.56h-2.56zM40.96 30.72h2.56v2.56h-2.56zM0.00 33.28h2.56v2.56h-2.56zM40.96 33.28h2.56v2.56h-2.56zM64.00 35.84h2.56v2.56h-2.56zM5.12 40.96h2.56v2.56h-2.56zM51.20 40.96h2.56v2.56h-2.56zM56.32 40.96h2.56v2.56h-2.56zM12.80 43.52h2.56v2.56h-2.56zM79.36 43.52h2.56v2.56h-2.56zM5.12 48.64h2.56v2.56h-2.56zM69.12 48.64h2.56v2.56h-2.56zM69.12 51.20h2.56v2.56h-2.56zM10.24 53.76h2.56v2.56h-2.56zM56.32 56.32h2.56v2.56h-2.56zM71.68 56.32h2.56v2.56h-2.56zM51.20 61.44h2.56v2.56h-2.56zM58.88 61.44h2.56v2.56h-2.56zM66.56 64.00h2.56v2.56h-2.56zM15.36 71.68h2.56v2.56h-2.56zM17.92 71.68h2.56v2.56h-2.56zM71.68 71.68h2.56v2.56h-2.56zM10.24 74.24h2.56v2.56h-2.56zM69.12 74.24h2.56v2.56h-2.56zM12.80 76.80h2.56v2.56h-2.56zM38.40 76.80h2.56v2.56h-2.56zM48.64 79.36h2.56v2.56h-2.56zM61.44 79.36h2.56v2.56h-2.56z" fill="#cccccc"/><path d="M23.04 7.68h2.56v2.56h-2.56zM30.72 7.68h2.56v2.56h-2.56zM61.44 7.68h2.56v2.56h-2.56zM17.92 10.24h2.56v2.56h-2.56zM46.08 10.24h2.56v2.56h-2.56zM23.04 12.80h2.56v2.56h-2.56zM53.76 12.80h2.56v2.56h-2.56zM7.68 15.36h2.56v2.56h-2.56zM46.08 15.36h2.56v2.56h-2.56zM48.64 15.36h2.56v2.56h-2.56zM43.52 20.48h2.56v2.56h-2.56zM10.24 25.60h2.56v2.56h-2.56zM43.52 25.60h2.56v2.56h-2.56zM48.64 30.72h2.56v2.56h-2.56zM25.60 35.84h2.56v2.56h-2.56zM38.40 35.84h2.56v2.56h-2.56zM48.64 35.84h2.56v2.56h-2.56zM15.36 40.96h2.56v2.56h-2.56zM25.60 43.52h2.56v2.56h-2.56zM33.28 51.20h2.56v2.56h-2.56zM53.76 51.20h2.56v2.56h-2.56zM76.80 53.76h2.56v2.56h-2.56zM46.08 56.32h2.56v2.56h-2.56zM43.52 58.88h2.56v2.56h-2.56zM43.52 61.44h2.56v2.56h-2.56zM30.72 66.56h2.56v2.56h-2.56zM2.56 71.68h2.56v2.56h-2.56zM61.44 71.68h2.56v2.56h-2.56zM69.12 71.68h2.56v2.56h-2.56zM28.16 79.36h2.56v2.56h-2.56z" fill="#dddddd"/><path d="M56.32 12.80h2.56v2.56h-2.56zM53.76 23.04h2.56v2.56h-2.56zM0.00 25.60h2.56v2.56h-2.56zM66.56 33.28h2.56v2.56h-2.56zM33.28 38.40h2.56v2.56h-2.56zM61.44 46.08h2.56v2.56h-2.56zM43.52 48.64h2.56v2.56h-2.56zM61.44 48.64h2.56v2.56h-2.56zM71.68 48.64h2.56v2.56h-2.56zM7.68 51.20h2.56v2.56h-2.56zM7.68 58.88h2.56v2.56h-2.56zM40.96 74.24h2.56v2.56h-2.56z" fill="#eeeeee"/><path d="M66.56 2.56h2.56v2.56h-2.56zM64.00 12.80h2.56v2.56h-2.56zM71.68 15.36h2.56v2.56h-2.56zM17.92 48.64h2.56v2.56h-2.56zM79.36 48.64h2.56v2.56h-2.56zM7.68 64.00h2.56v2.56h-2.56zM40.96 64.00h2.56v2.56h-2.56zM74.24 66.56h2.56v2.56h-2.56zM17.92 69.12h2.56v2.56h-2.56z" fill="#ffffff"/></pattern>
<filter id="tf0" filterUnits="userSpaceOnUse" x="0" y="0" width="160" height="160" color-interpolation-filters="sRGB"><feComponentTransfer result="s"><feFuncR type="linear" slope="1.3158" intercept="-0.1579"/><feFuncG type="linear" slope="1.3158" intercept="-0.1579"/><feFuncB type="linear" slope="1.3158" intercept="-0.1579"/></feComponentTransfer><feComponentTransfer in="s"><feFuncR type="table" tableValues="0.267 0.277 0.282 0.283 0.279 0.271 0.259 0.245 0.230 0.214 0.199 0.186 0.173 0.161 0.149 0.138 0.128 0.121 0.121 0.132 0.158 0.197 0.246 0.304 0.369 0.440 0.516 0.596 0.678 0.762 0.846 0.926 0.993"/><feFuncG type="table" tableValues="0.005 0.050 0.095 0.136 0.175 0.214 0.252 0.288 0.322 0.356 0.388 0.419 0.449 0.479 0.508 0.537 0.567 0.596 0.626 0.655 0.684 0.712 0.739 0.765 0.789 0.811 0.831 0.849 0.864 0.876 0.887 0.897 0.906"/><feFuncB type="table" tableValues="0.329 0.376 0.417 0.453 0.483 0.507 0.525 0.537 0.546 0.551 0.555 0.557 0.558 0.558 0.557 0.555 0.551 0.544 0.533 0.520 0.502 0.479 0.452 0.420 0.383 0.341 0.294 0.243 0.190 0.137 0.100 0.104 0.144"/></feComponentTransfer></filter>
<filter id="tf1" filterUnits="userSpaceOnUse" x="0" y="0" width="160" height="160" color-interpolation-filters="sRGB"><feComponentTransfer result="s"><feFuncR type="linear" slope="1.3158" intercept="-0.1579"/><feFuncG type="linear" slope="1.3158" intercept="-0.1579"/><feFuncB type="linear" slope="1.3158" intercept="-0.1579"/></feComponentTransfer><feComponentTransfer in="s"><feFuncR type="table" tableValues="0.267 0.277 0.282 0.283 0.279 0.271 0.259 0.245 0.230 0.214 0.199 0.186 0.173 0.161 0.149 0.138 0.128 0.121 0.121 0.132 0.158 0.197 0.246 0.304 0.369 0.440 0.516 0.596 0.678 0.762 0.846 0.926 0.993"/><feFuncG type="table" tableValues="0.005 0.050 0.095 0.136 0.175 0.214 0.252 0.288 0.322 0.356 0.388 0.419 0.449 0.479 0.508 0.537 0.567 0.596 0.626 0.655 0.684 0.712 0.739 0.765 0.789 0.811 0.831 0.849 0.864 0.876 0.887 0.897 0.906"/><feFuncB type="table" tableValues="0.329 0.376 0.417 0.453 0.483 0.507 0.525 0.537 0.546 0.551 0.555 0.557 0.558 0.558 0.557 0.555 0.551 0.544 0.533 0.520 0.502 0.479 0.452 0.420 0.383 0.341 0.294 0.243 0.190 0.137 0.100 0.104 0.144"/></feComponentTransfer></filter>
<filter id="tf2" filterUnits="userSpaceOnUse" x="0" y="0" width="160" height="160" color-interpolation-filters="sRGB"><feComponentTransfer result="s"><feFuncR type="linear" slope="1.3158" intercept="-0.1579"/><feFuncG type="linear" slope="1.3158" intercept="-0.1579"/><feFuncB type="linear" slope="1.3158" intercept="-0.1579"/></feComponentTransfer><feComponentTransfer in="s"><feFuncR type="table" tableValues="0.267 0.277 0.282 0.283 0.279 0.271 0.259 0.245 0.230 0.214 0.199 0.186 0.173 0.161 0.149 0.138 0.128 0.121 0.121 0.132 0.158 0.197 0.246 0.304 0.369 0.440 0.516 0.596 0.678 0.762 0.846 0.926 0.993"/><feFuncG type="table" tableValues="0.005 0.050 0.095 0.136 0.175 0.214 0.252 0.288 0.322 0.356 0.388 0.419 0.449 0.479 0.508 0.537 0.567 0.596 0.626 0.655 0.684 0.712 0.739 0.765 0.789 0.811 0.831 0.849 0.864 0.876 0.887 0.897 0.906"/><feFuncB type="table" tableValues="0.329 0.376 0.417 0.453 0.483 0.507 0.525 0.537 0.546 0.551 0.555 0.557 0.558 0.558 0.557 0.555 0.551 0.544 0.533 0.520 0.502 0.479 0.452 0.420 0.383 0.341 0.294 0.243 0.190 0.137 0.100 0.104 0.144"/></feComponentTransfer></filter>
<filter id="tf3" filterUnits="userSpaceOnUse" x="0" y="0" width="160" height="160" color-interpolation-filters="sRGB"><feComponentTransfer result="s"><feFuncR type="linear" slope="1.3158" intercept="-0.1579"/><feFuncG type="linear" slope="1.3158" intercept="-0.1579"/><feFuncB type="linear" slope="1.3158" intercept="-0.1579"/></feComponentTransfer><feComponentTransfer in="s"><feFuncR type="table" tableValues="0.267 0.277 0.282 0.283 0.279 0.271 0.259 0.245 0.230 0.214 0.199 0.186 0.173 0.161 0.149 0.138 0.128 0.121 0.121 0.132 0.158 0.197 0.246 0.304 0.369 0.440 0.516 0.596 0.678 0.762 0.846 0.926 0.993"/><feFuncG type="table" tableValues="0.005 0.050 0.095 0.136 0.175 0.214 0.252 0.288 0.322 0.356 0.388 0.419 0.449 0.479 0.508 0.537 0.567 0.596 0.626 0.655 0.684 0.712 0.739 0.765 0.789 0.811 0.831 0.849 0.864 0.876 0.887 0.897 0.906"/><feFuncB type="table" tableValues="0.329 0.376 0.417 0.453 0.483 0.507 0.525 0.537 0.546 0.551 0.555 0.557 0.558 0.558 0.557 0.555 0.551 0.544 0.533 0.520 0.502 0.479 0.452 0.420 0.383 0.341 0.294 0.243 0.190 0.137 0.100 0.104 0.144"/></feComponentTransfer></filter>
<filter id="bl0_9" x="-50%" y="-50%" width="200%" height="200%"><feGaussianBlur stdDeviation="0.9"/></filter>
<filter id="bl1_2" x="-50%" y="-50%" width="200%" height="200%"><feGaussianBlur stdDeviation="1.2"/></filter>
<filter id="bl1_4" x="-50%" y="-50%" width="200%" height="200%"><feGaussianBlur stdDeviation="1.4"/></filter>
<filter id="bl1_6" x="-50%" y="-50%" width="200%" height="200%"><feGaussianBlur stdDeviation="1.6"/></filter>
<filter id="bl1_8" x="-50%" y="-50%" width="200%" height="200%"><feGaussianBlur stdDeviation="1.8"/></filter>
<filter id="bl2_0" x="-50%" y="-50%" width="200%" height="200%"><feGaussianBlur stdDeviation="2.0"/></filter>
<filter id="bl2_2" x="-50%" y="-50%" width="200%" height="200%"><feGaussianBlur stdDeviation="2.2"/></filter>
<filter id="bl3_0" x="-50%" y="-50%" width="200%" height="200%"><feGaussianBlur stdDeviation="3.0"/></filter>
<filter id="bl3_5" x="-50%" y="-50%" width="200%" height="200%"><feGaussianBlur stdDeviation="3.5"/></filter>
<filter id="bl4" x="-50%" y="-50%" width="200%" height="200%"><feGaussianBlur stdDeviation="4"/></filter>
<filter id="bl5" x="-50%" y="-50%" width="200%" height="200%"><feGaussianBlur stdDeviation="5"/></filter>
<filter id="bl6" x="-50%" y="-50%" width="200%" height="200%"><feGaussianBlur stdDeviation="6"/></filter>
<filter id="bl7" x="-50%" y="-50%" width="200%" height="200%"><feGaussianBlur stdDeviation="7"/></filter>
<filter id="bl8" x="-50%" y="-50%" width="200%" height="200%"><feGaussianBlur stdDeviation="8"/></filter>
<filter id="bl9" x="-50%" y="-50%" width="200%" height="200%"><feGaussianBlur stdDeviation="9"/></filter>
<filter id="bl10" x="-50%" y="-50%" width="200%" height="200%"><feGaussianBlur stdDeviation="10"/></filter>
<clipPath id="tc0"><rect x="0" y="0" width="154" height="153"/></clipPath>
<clipPath id="tc1"><rect x="0" y="0" width="153" height="153"/></clipPath>
<clipPath id="tc2"><rect x="0" y="0" width="154" height="153"/></clipPath>
<clipPath id="tc3"><rect x="0" y="0" width="153.6" height="153"/></clipPath>
</defs>
<g transform="translate(19,1)" clip-path="url(#tc0)">
<g filter="url(#tf0)">
<rect x="0" y="0" width="154" height="153" fill="#ababab"/>
<ellipse cx="132" cy="132" rx="34" ry="26" fill="#cccccc" filter="url(#bl10)"/>
<ellipse cx="40" cy="118" rx="24" ry="13" fill="#c4c4c4" filter="url(#bl7)"/>
<ellipse cx="15" cy="50" rx="14" ry="30" fill="#b5b5b5" filter="url(#bl8)"/>
<ellipse cx="142" cy="20" rx="18" ry="16" fill="#8a8a8a" filter="url(#bl7)"/>
<ellipse cx="5" cy="142" rx="16" ry="16" fill="#949494" filter="url(#bl6)"/>
<ellipse cx="90" cy="6" rx="50" ry="7" fill="#b2b2b2" filter="url(#bl5)"/>
<ellipse cx="150" cy="95" rx="10" ry="20" fill="#bababa" filter="url(#bl6)"/>
<ellipse cx="8" cy="130" rx="10" ry="30" fill="#919191" filter="url(#bl7)"/>
<ellipse cx="136" cy="32" rx="15" ry="17" fill="#7d7d7d" filter="url(#bl5)"/>
<ellipse cx="50" cy="116" rx="7" ry="6" fill="#d6d6d6" filter="url(#bl3_5)"/>
<ellipse cx="72" cy="140" rx="8" ry="5" fill="#cccccc" filter="url(#bl3_5)"/>
<polygon points="63.3,25.2 111.9,22.6 123.3,38.2 123.3,51.2 120.0,70.6 113.5,86.8 105.0,104.0 80.0,112.0 60.0,100.0 45.5,69.0 50.0,50.0" fill="#808080" filter="url(#bl0_9)"/>
<polygon points="53.0,50.0 101.0,48.0 114.5,76.0 97.0,97.0 61.0,95.0 48.0,74.0" fill="#666666" filter="url(#bl1_3)"/>
<ellipse cx="72" cy="62" rx="16" ry="12" fill="#5c5c5c" filter="url(#bl5)" transform="rotate(0 72 62)"/>
<circle cx="94.5" cy="93.6" r="11" fill="#3d3d3d" filter="url(#bl4)"/>
<polygon points="100.5,100.0 102.2,97.7 102.9,94.9 102.4,92.0 100.9,89.6 98.6,87.9 95.8,87.2 92.9,87.7 90.5,89.2 58.0,120.9 56.6,122.9 56.0,125.3 56.4,127.7 57.7,129.8 59.7,131.2 62.1,131.8 64.5,131.4 66.6,130.1" fill="#000000" filter="url(#bl1_2)"/>
<g transform="translate(0,0)"><rect x="0" y="0" width="160" height="160" fill="url(#npt)" opacity="0.24"/></g>
</g>
</g>
<g transform="translate(179,1)" clip-path="url(#tc1)">
<g filter="url(#tf1)">
<rect x="0" y="0" width="153" height="153" fill="#a1a1a1"/>
<ellipse cx="15" cy="20" rx="35" ry="25" fill="#b2b2b2" filter="url(#bl9)"/>
<ellipse cx="20" cy="130" rx="35" ry="25" fill="#b8b8b8" filter="url(#bl9)"/>
<ellipse cx="143" cy="92" rx="16" ry="32" fill="#e0e0e0" filter="url(#bl8)"/>
<ellipse cx="118" cy="138" rx="38" ry="18" fill="#bdbdbd" filter="url(#bl8)"/>
<ellipse cx="138" cy="32" rx="18" ry="20" fill="#8a8a8a" filter="url(#bl6)"/>
<ellipse cx="75" cy="145" rx="40" ry="8" fill="#adadad" filter="url(#bl6)"/>
<ellipse cx="128" cy="108" rx="10" ry="10" fill="#cccccc" filter="url(#bl5)"/>
<polygon points="60.0,22.0 103.8,20.3 118.4,35.0 123.3,44.7 123.0,58.0 107.0,106.0 78.0,119.0 55.0,134.0 35.7,93.3 42.0,67.4" fill="#787878" filter="url(#bl0_9)"/>
<polygon points="101.0,17.0 117.0,13.0 127.0,27.0 125.0,45.0 110.0,49.0 100.0,34.0" fill="#707070" filter="url(#bl1_2)"/>
<polygon points="55.2,41.4 90.9,39.8 113.5,73.9 105.4,94.9 68.2,98.2 43.8,70.6" fill="#4a4a4a" filter="url(#bl1_4)"/>
<ellipse cx="76" cy="80" rx="16" ry="13" fill="#2e2e2e" filter="url(#bl6)" transform="rotate(0 76 80)"/>
<ellipse cx="62" cy="120" rx="22" ry="14" fill="#888888" filter="url(#bl7)"/>
<ellipse cx="8" cy="90" rx="10" ry="18" fill="#8c8c8c" filter="url(#bl6)"/>
<ellipse cx="5" cy="148" rx="10" ry="8" fill="#808080" filter="url(#bl5)"/>
<g transform="translate(-31,-13)"><rect x="31" y="13" width="160" height="160" fill="url(#npt)" opacity="0.24"/></g>
</g>
</g>
<g transform="translate(337,1)" clip-path="url(#tc2)">
<g filter="url(#tf2)">
<rect x="0" y="0" width="154" height="153" fill="#909090"/>
<ellipse cx="70" cy="6" rx="60" ry="10" fill="#9e9e9e" filter="url(#bl7)"/>
<ellipse cx="14" cy="78" rx="20" ry="45" fill="#808080" filter="url(#bl9)"/>
<ellipse cx="141" cy="80" rx="16" ry="36" fill="#dedede" filter="url(#bl8)"/>
<ellipse cx="136" cy="28" rx="20" ry="12" fill="#808080" filter="url(#bl6)"/>
<ellipse cx="132" cy="132" rx="28" ry="24" fill="#c2c2c2" filter="url(#bl9)"/>
<ellipse cx="40" cy="138" rx="40" ry="16" fill="#a3a3a3" filter="url(#bl8)"/>
<ellipse cx="150" cy="20" rx="12" ry="20" fill="#9e9e9e" filter="url(#bl6)"/>
<polygon points="55.8,20.3 106.0,18.7 119.0,35.0 121.0,60.0 119.0,90.0 106.0,112.8 77.0,119.0 51.0,109.5 39.6,73.9 44.5,48.0" fill="#6b6b6b" filter="url(#bl0_9)"/>
<polygon points="54.2,39.8 76.9,36.6 98.0,44.0 108.5,57.0 112.0,81.0 103.0,89.0 73.6,94.9 55.8,83.6 44.5,57.6" fill="#303030" filter="url(#bl1_4)"/>
<ellipse cx="80" cy="80" rx="26" ry="13" fill="#0f0f0f" filter="url(#bl5)" transform="rotate(0 80 80)"/>
<g transform="translate(-17,-47)"><rect x="17" y="47" width="160" height="160" fill="url(#npt)" opacity="0.24"/></g>
</g>
</g>
<g transform="translate(496,1)" clip-path="url(#tc3)">
<g filter="url(#tf3)">
<rect x="0" y="0" width="153.6" height="153" fill="#999999"/>
<ellipse cx="40" cy="55" rx="7" ry="9" fill="#c2c2c2" filter="url(#bl4)"/>
<ellipse cx="136" cy="104" rx="20" ry="30" fill="#dedede" filter="url(#bl9)"/>
<ellipse cx="145" cy="55" rx="14" ry="18" fill="#b8b8b8" filter="url(#bl7)"/>
<ellipse cx="120" cy="135" rx="25" ry="15" fill="#bfbfbf" filter="url(#bl8)"/>
<ellipse cx="20" cy="100" rx="25" ry="30" fill="#9e9e9e" filter="url(#bl9)"/>
<ellipse cx="70" cy="8" rx="50" ry="8" fill="#a3a3a3" filter="url(#bl6)"/>
<polygon points="55.4,22.5 113.7,24.0 122.7,38.9 119.7,59.8 113.7,95.7 104.7,107.7 74.8,118.0 62.9,104.7 52.4,83.7 43.4,53.8 47.9,35.9" fill="#666666" filter="url(#bl1_2)"/>
<ellipse cx="84" cy="82" rx="36" ry="28" fill="#545454" filter="url(#bl7)" transform="rotate(8 84 82)"/>
<ellipse cx="83.8" cy="78" rx="27.5" ry="15" fill="#121212" filter="url(#bl3_0)" transform="rotate(8 83.8 78)"/>
<g transform="translate(-53,-29)"><rect x="53" y="29" width="160" height="160" fill="url(#npt)" opacity="0.24"/></g>
</g>
</g>
<text x="158.00" y="9.1" font-size="8.8" fill="#fff" font-family="Liberation Sans, sans-serif" textLength="12.50" lengthAdjust="spacingAndGlyphs">0 s</text>
<text x="304.10" y="9.1" font-size="8.8" fill="#fff" font-family="Liberation Sans, sans-serif" textLength="24.40" lengthAdjust="spacingAndGlyphs">13.2 s</text>
<text x="461.80" y="9.1" font-size="8.8" fill="#fff" font-family="Liberation Sans, sans-serif" textLength="24.90" lengthAdjust="spacingAndGlyphs">37.4 s</text>
<text x="620.40" y="9.1" font-size="8.8" fill="#fff" font-family="Liberation Sans, sans-serif" textLength="25.40" lengthAdjust="spacingAndGlyphs">61.6 s</text>
<rect x="144.80" y="148.3" width="25.6" height="3.2" fill="#fff"/>
<text x="145.60" y="146.2" font-size="8.8" fill="#fff" font-family="Liberation Sans, sans-serif" textLength="25.00" lengthAdjust="spacingAndGlyphs">50 nm</text>
<rect x="303.80" y="148.3" width="25.6" height="3.2" fill="#fff"/>
<text x="304.60" y="146.2" font-size="8.8" fill="#fff" font-family="Liberation Sans, sans-serif" textLength="25.00" lengthAdjust="spacingAndGlyphs">50 nm</text>
<rect x="462.80" y="148.3" width="25.6" height="3.2" fill="#fff"/>
<text x="463.60" y="146.2" font-size="8.8" fill="#fff" font-family="Liberation Sans, sans-serif" textLength="25.00" lengthAdjust="spacingAndGlyphs">50 nm</text>
<rect x="621.40" y="148.3" width="25.6" height="3.2" fill="#fff"/>
<text x="622.20" y="146.2" font-size="8.8" fill="#fff" font-family="Liberation Sans, sans-serif" textLength="25.00" lengthAdjust="spacingAndGlyphs">50 nm</text>
<defs><linearGradient id="vga" x1="0" y1="1" x2="0" y2="0"><stop offset="0.000" stop-color="#440154"/><stop offset="0.050" stop-color="#471365"/><stop offset="0.100" stop-color="#482475"/><stop offset="0.150" stop-color="#463480"/><stop offset="0.200" stop-color="#414487"/><stop offset="0.250" stop-color="#3b528b"/><stop offset="0.300" stop-color="#355f8d"/><stop offset="0.350" stop-color="#2f6c8e"/><stop offset="0.400" stop-color="#2a788e"/><stop offset="0.450" stop-color="#25848e"/><stop offset="0.500" stop-color="#21918c"/><stop offset="0.550" stop-color="#1e9c89"/><stop offset="0.600" stop-color="#22a884"/><stop offset="0.650" stop-color="#2fb47c"/><stop offset="0.700" stop-color="#44bf70"/><stop offset="0.750" stop-color="#5ec962"/><stop offset="0.800" stop-color="#7ad151"/><stop offset="0.850" stop-color="#9bd93c"/><stop offset="0.900" stop-color="#bddf26"/><stop offset="0.950" stop-color="#dfe318"/><stop offset="1.000" stop-color="#fde725"/></linearGradient></defs>
<rect x="651.6" y="0" width="8.8" height="1.4" fill="#c9c9d9"/>
<rect x="651.9" y="1.3" width="8.3" height="153.3" fill="url(#vga)"/>
<line x1="651.9" y1="1.3" x2="651.9" y2="154.6" stroke="#b4b4c4" stroke-width="0.7"/>
<line x1="660.2" y1="1.3" x2="660.2" y2="154.6" stroke="#555" stroke-width="0.7"/>
<line x1="651.9" y1="1.5" x2="660.2" y2="1.5" stroke="#8a8a40" stroke-width="0.5"/>
<line x1="651.9" y1="154.6" x2="660.2" y2="154.6" stroke="#555" stroke-width="0.6"/>
<line x1="660.2" y1="23.20" x2="661.8" y2="23.20" stroke="#444" stroke-width="0.6"/>
<line x1="660.2" y1="45.10" x2="661.8" y2="45.10" stroke="#444" stroke-width="0.6"/>
<line x1="660.2" y1="67.00" x2="661.8" y2="67.00" stroke="#444" stroke-width="0.6"/>
<line x1="660.2" y1="88.90" x2="661.8" y2="88.90" stroke="#444" stroke-width="0.6"/>
<line x1="660.2" y1="110.80" x2="661.8" y2="110.80" stroke="#444" stroke-width="0.6"/>
<line x1="660.2" y1="132.70" x2="661.8" y2="132.70" stroke="#444" stroke-width="0.6"/>
<text x="660.6" y="4.6" font-size="9.4" fill="#222" font-family="Liberation Sans, sans-serif" textLength="16.6" lengthAdjust="spacingAndGlyphs">max</text>
<text x="661.8" y="154.7" font-size="9.4" fill="#222" font-family="Liberation Sans, sans-serif" textLength="14.2" lengthAdjust="spacingAndGlyphs">min</text>
<text x="670.0" y="85.8" font-size="8.6" fill="#222" text-anchor="middle" font-family="Liberation Sans, sans-serif" textLength="80.5" lengthAdjust="spacingAndGlyphs" transform="rotate(90 670.0 85.8)">TEM image intensity</text>
<text x="-0.60" y="7.80" font-size="15" fill="#000" text-anchor="start" font-weight="bold" >a</text>
<text x="1.00" y="182.50" font-size="15" fill="#000" text-anchor="start" font-weight="bold" >b</text>
<text x="292.60" y="184.50" font-size="15" fill="#000" text-anchor="start" font-weight="bold" >c</text>
<line x1="79.60" y1="185.60" x2="79.60" y2="375.90" stroke="#d8d8d8" stroke-width="0.7" stroke-dasharray="2,1.6"/>
<line x1="113.17" y1="185.60" x2="113.17" y2="375.90" stroke="#d8d8d8" stroke-width="0.7" stroke-dasharray="2,1.6"/>
<line x1="146.75" y1="185.60" x2="146.75" y2="375.90" stroke="#d8d8d8" stroke-width="0.7" stroke-dasharray="2,1.6"/>
<line x1="180.32" y1="185.60" x2="180.32" y2="375.90" stroke="#d8d8d8" stroke-width="0.7" stroke-dasharray="2,1.6"/>
<line x1="213.90" y1="185.60" x2="213.90" y2="375.90" stroke="#d8d8d8" stroke-width="0.7" stroke-dasharray="2,1.6"/>
<line x1="57.30" y1="198.30" x2="231.80" y2="198.30" stroke="#d8d8d8" stroke-width="0.7" stroke-dasharray="2,1.6"/>
<line x1="57.30" y1="231.80" x2="231.80" y2="231.80" stroke="#d8d8d8" stroke-width="0.7" stroke-dasharray="2,1.6"/>
<line x1="57.30" y1="265.30" x2="231.80" y2="265.30" stroke="#d8d8d8" stroke-width="0.7" stroke-dasharray="2,1.6"/>
<line x1="57.30" y1="298.80" x2="231.80" y2="298.80" stroke="#d8d8d8" stroke-width="0.7" stroke-dasharray="2,1.6"/>
<line x1="57.30" y1="332.30" x2="231.80" y2="332.30" stroke="#d8d8d8" stroke-width="0.7" stroke-dasharray="2,1.6"/>
<line x1="57.30" y1="365.80" x2="231.80" y2="365.80" stroke="#d8d8d8" stroke-width="0.7" stroke-dasharray="2,1.6"/>
<polygon points="105.60,195.70 162.00,194.50 191.00,228.80 160.00,294.50 112.00,298.00 76.80,256.20" fill="none" stroke="#555" stroke-width="0.7" stroke-dasharray="2.6,1.6"/>
<polygon points="91.40,226.50 143.60,224.60 185.50,283.00 166.00,314.00 114.00,317.50 70.60,269.30" fill="none" stroke="#555" stroke-width="0.7" stroke-dasharray="2.6,1.6"/>
<polygon points="169.60,317.50 197.70,293.30 224.10,305.00 223.30,351.00 201.50,367.40 186.00,367.40 172.80,360.70" fill="none" stroke="#555" stroke-width="0.7" stroke-dasharray="2.6,1.6"/>
<g stroke-width="1.4" fill="none" stroke-linejoin="miter">
<polygon points="65.10,298.97 79.02,265.48 124.82,255.51 160.00,300.03 156.48,331.02 94.47,344.59" fill="none" stroke="#440154" stroke-width="1.3" />
<polygon points="67.62,300.26 80.37,266.26 125.76,254.76 162.20,297.88 159.38,329.15 98.48,344.68" fill="none" stroke="#470d60" stroke-width="1.3" />
<polygon points="70.15,303.56 80.24,268.64 124.57,253.75 163.95,293.79 163.19,325.37 104.25,345.34" fill="none" stroke="#481a6c" stroke-width="1.3" />
<polygon points="71.55,304.30 80.85,269.11 124.81,253.31 164.79,292.33 164.38,324.13 106.47,345.18" fill="none" stroke="#482475" stroke-width="1.3" />
<polygon points="73.20,306.35 80.69,270.69 123.77,252.76 165.39,289.59 166.25,321.59 110.04,345.28" fill="none" stroke="#472f7d" stroke-width="1.3" />
<polygon points="74.11,306.40 81.07,270.58 123.84,252.08 165.72,288.18 166.71,320.39 111.42,344.64" fill="none" stroke="#443983" stroke-width="1.3" />
<polygon points="74.27,302.27 83.86,267.02 127.85,251.80 166.66,290.77 164.91,323.17 108.56,343.04" fill="none" stroke="#414487" stroke-width="1.3" />
<polygon points="75.36,303.94 83.14,268.21 126.28,250.86 166.73,287.70 166.28,320.37 111.56,342.80" fill="none" stroke="#3d4d8a" stroke-width="1.3" />
<polygon points="76.08,303.18 83.91,267.42 127.05,250.21 167.15,287.00 166.30,319.89 112.11,341.97" fill="none" stroke="#39568c" stroke-width="1.3" />
<polygon points="76.58,301.17 85.34,265.58 128.89,249.58 167.73,287.29 165.66,320.36 111.48,340.76" fill="none" stroke="#355f8d" stroke-width="1.3" />
<polygon points="77.03,298.73 86.89,263.38 130.87,248.80 168.25,287.56 164.81,320.75 110.60,339.24" fill="none" stroke="#31688e" stroke-width="1.3" />
<polygon points="77.79,298.40 87.11,262.86 130.84,247.69 168.52,285.76 165.22,319.21 111.86,338.28" fill="none" stroke="#2d708e" stroke-width="1.3" />
<polygon points="78.64,297.45 87.96,261.87 131.67,246.78 169.05,284.73 165.39,318.39 112.60,337.20" fill="none" stroke="#2a788e" stroke-width="1.3" />
<polygon points="79.46,296.32 88.93,260.73 132.66,245.89 169.61,283.87 165.46,317.72 113.17,336.08" fill="none" stroke="#27808e" stroke-width="1.3" />
<polygon points="80.24,294.85 90.12,259.33 133.99,245.07 170.21,283.35 165.32,317.35 113.39,334.87" fill="none" stroke="#23888e" stroke-width="1.3" />
<polygon points="80.94,293.50 91.35,258.09 135.40,244.57 170.76,283.27 164.98,317.39 113.37,333.89" fill="none" stroke="#21918c" stroke-width="1.3" />
<polygon points="81.77,293.47 91.71,257.88 135.55,243.85 171.13,281.94 165.46,316.34 114.64,333.29" fill="none" stroke="#1f988b" stroke-width="1.3" />
<polygon points="82.26,289.86 94.53,254.97 139.17,243.93 171.88,284.16 163.57,318.29 112.33,331.64" fill="none" stroke="#1fa188" stroke-width="1.3" />
<polygon points="82.96,286.72 97.18,252.52 142.32,244.08 172.46,285.93 161.86,319.70 110.55,329.97" fill="none" stroke="#22a884" stroke-width="1.3" />
<polygon points="83.82,287.17 97.21,252.60 142.11,243.16 172.96,284.12 162.80,318.31 112.34,329.62" fill="none" stroke="#2ab07f" stroke-width="1.3" />
<polygon points="84.66,286.70 97.94,252.05 142.77,242.53 173.49,283.24 163.06,317.63 113.23,328.92" fill="none" stroke="#35b779" stroke-width="1.3" />
<polygon points="85.49,285.95 98.88,251.29 143.70,241.98 174.03,282.63 163.12,317.16 113.84,328.12" fill="none" stroke="#44bf70" stroke-width="1.3" />
<polygon points="86.22,285.36 99.59,250.65 144.37,241.38 174.45,281.87 163.19,316.57 114.51,327.37" fill="none" stroke="#54c568" stroke-width="1.3" />
<polygon points="86.88,281.75 102.59,247.98 147.86,241.85 174.85,284.12 160.87,318.13 112.17,325.45" fill="none" stroke="#67cc5c" stroke-width="1.3" />
<polygon points="87.58,280.41 103.86,246.87 149.17,241.56 175.20,284.11 160.26,318.02 112.05,324.38" fill="none" stroke="#7ad151" stroke-width="1.3" />
<polygon points="88.24,279.72 104.60,246.17 149.88,241.02 175.57,283.44 160.17,317.46 112.56,323.60" fill="none" stroke="#90d743" stroke-width="1.3" />
<polygon points="88.23,281.57 102.56,247.06 147.42,239.29 175.32,279.96 161.60,315.00 115.03,323.78" fill="none" stroke="#a5db36" stroke-width="1.3" />
<polygon points="88.28,281.20 102.31,246.52 147.06,238.43 175.05,278.69 161.26,314.02 115.36,323.03" fill="none" stroke="#bddf26" stroke-width="1.3" />
<polygon points="88.34,280.88 102.02,246.01 146.65,237.54 174.77,277.38 160.96,313.01 115.74,322.30" fill="none" stroke="#d2e21b" stroke-width="1.3" />
<polygon points="88.36,279.30 102.71,244.66 147.46,237.11 174.54,277.33 159.68,312.86 114.89,321.10" fill="none" stroke="#eae51a" stroke-width="1.3" />
<polygon points="88.40,278.00 103.20,243.50 148.00,236.60 174.30,277.00 158.60,312.50 114.30,320.00" fill="none" stroke="#fde725" stroke-width="1.3" />
</g>
<line x1="110.60" y1="299.90" x2="113.24" y2="299.46" stroke="#46075a" stroke-width="3.4" stroke-linecap="round"/>
<line x1="113.24" y1="299.46" x2="115.62" y2="299.04" stroke="#471365" stroke-width="3.4" stroke-linecap="round"/>
<line x1="115.62" y1="299.04" x2="116.86" y2="298.68" stroke="#481f70" stroke-width="3.4" stroke-linecap="round"/>
<line x1="116.86" y1="298.68" x2="118.09" y2="298.33" stroke="#482979" stroke-width="3.4" stroke-linecap="round"/>
<line x1="118.09" y1="298.33" x2="118.76" y2="297.66" stroke="#463480" stroke-width="3.4" stroke-linecap="round"/>
<line x1="118.76" y1="297.66" x2="119.38" y2="296.96" stroke="#433e85" stroke-width="3.4" stroke-linecap="round"/>
<line x1="119.38" y1="296.96" x2="119.99" y2="296.25" stroke="#3f4889" stroke-width="3.4" stroke-linecap="round"/>
<line x1="119.99" y1="296.25" x2="120.61" y2="295.55" stroke="#3b528b" stroke-width="3.4" stroke-linecap="round"/>
<line x1="120.61" y1="295.55" x2="121.19" y2="294.72" stroke="#375b8d" stroke-width="3.4" stroke-linecap="round"/>
<line x1="121.19" y1="294.72" x2="121.72" y2="293.66" stroke="#32648e" stroke-width="3.4" stroke-linecap="round"/>
<line x1="121.72" y1="293.66" x2="122.27" y2="292.61" stroke="#2f6c8e" stroke-width="3.4" stroke-linecap="round"/>
<line x1="122.27" y1="292.61" x2="123.02" y2="291.64" stroke="#2b748e" stroke-width="3.4" stroke-linecap="round"/>
<line x1="123.02" y1="291.64" x2="123.78" y2="290.66" stroke="#287c8e" stroke-width="3.4" stroke-linecap="round"/>
<line x1="123.78" y1="290.66" x2="124.53" y2="289.69" stroke="#25848e" stroke-width="3.4" stroke-linecap="round"/>
<line x1="124.53" y1="289.69" x2="125.20" y2="289.00" stroke="#228c8d" stroke-width="3.4" stroke-linecap="round"/>
<line x1="125.20" y1="289.00" x2="125.86" y2="288.34" stroke="#1f948c" stroke-width="3.4" stroke-linecap="round"/>
<line x1="125.86" y1="288.34" x2="126.52" y2="287.68" stroke="#1e9c89" stroke-width="3.4" stroke-linecap="round"/>
<line x1="126.52" y1="287.68" x2="127.20" y2="287.02" stroke="#20a486" stroke-width="3.4" stroke-linecap="round"/>
<line x1="127.20" y1="287.02" x2="127.94" y2="286.36" stroke="#25ac82" stroke-width="3.4" stroke-linecap="round"/>
<line x1="127.94" y1="286.36" x2="128.69" y2="285.70" stroke="#2fb47c" stroke-width="3.4" stroke-linecap="round"/>
<line x1="128.69" y1="285.70" x2="129.43" y2="285.04" stroke="#3bbb75" stroke-width="3.4" stroke-linecap="round"/>
<line x1="129.43" y1="285.04" x2="130.05" y2="284.38" stroke="#4cc26c" stroke-width="3.4" stroke-linecap="round"/>
<line x1="130.05" y1="284.38" x2="130.60" y2="283.72" stroke="#5ec962" stroke-width="3.4" stroke-linecap="round"/>
<line x1="130.60" y1="283.72" x2="131.15" y2="283.06" stroke="#70cf57" stroke-width="3.4" stroke-linecap="round"/>
<line x1="131.15" y1="283.06" x2="131.70" y2="282.40" stroke="#86d549" stroke-width="3.4" stroke-linecap="round"/>
<line x1="131.70" y1="282.40" x2="131.54" y2="281.60" stroke="#9bd93c" stroke-width="3.4" stroke-linecap="round"/>
<line x1="131.54" y1="281.60" x2="131.38" y2="280.80" stroke="#b2dd2d" stroke-width="3.4" stroke-linecap="round"/>
<line x1="131.38" y1="280.80" x2="131.22" y2="280.00" stroke="#c8e020" stroke-width="3.4" stroke-linecap="round"/>
<line x1="131.22" y1="280.00" x2="131.06" y2="279.20" stroke="#dfe318" stroke-width="3.4" stroke-linecap="round"/>
<line x1="131.06" y1="279.20" x2="130.90" y2="278.40" stroke="#f4e61e" stroke-width="3.4" stroke-linecap="round"/>
<circle cx="110.60" cy="299.90" r="2.3" fill="#440154"/>
<circle cx="113.24" cy="299.46" r="2.3" fill="#470d60"/>
<circle cx="115.62" cy="299.04" r="2.3" fill="#481a6c"/>
<circle cx="116.86" cy="298.68" r="2.3" fill="#482475"/>
<circle cx="118.09" cy="298.33" r="2.3" fill="#472f7d"/>
<circle cx="118.76" cy="297.66" r="2.3" fill="#443983"/>
<circle cx="119.38" cy="296.96" r="2.3" fill="#414487"/>
<circle cx="119.99" cy="296.25" r="2.3" fill="#3d4d8a"/>
<circle cx="120.61" cy="295.55" r="2.3" fill="#39568c"/>
<circle cx="121.19" cy="294.72" r="2.3" fill="#355f8d"/>
<circle cx="121.72" cy="293.66" r="2.3" fill="#31688e"/>
<circle cx="122.27" cy="292.61" r="2.3" fill="#2d708e"/>
<circle cx="123.02" cy="291.64" r="2.3" fill="#2a788e"/>
<circle cx="123.78" cy="290.66" r="2.3" fill="#27808e"/>
<circle cx="124.53" cy="289.69" r="2.3" fill="#23888e"/>
<circle cx="125.20" cy="289.00" r="2.3" fill="#21918c"/>
<circle cx="125.86" cy="288.34" r="2.3" fill="#1f988b"/>
<circle cx="126.52" cy="287.68" r="2.3" fill="#1fa188"/>
<circle cx="127.20" cy="287.02" r="2.3" fill="#22a884"/>
<circle cx="127.94" cy="286.36" r="2.3" fill="#2ab07f"/>
<circle cx="128.69" cy="285.70" r="2.3" fill="#35b779"/>
<circle cx="129.43" cy="285.04" r="2.3" fill="#44bf70"/>
<circle cx="130.05" cy="284.38" r="2.3" fill="#54c568"/>
<circle cx="130.60" cy="283.72" r="2.3" fill="#67cc5c"/>
<circle cx="131.15" cy="283.06" r="2.3" fill="#7ad151"/>
<circle cx="131.70" cy="282.40" r="2.3" fill="#90d743"/>
<circle cx="131.54" cy="281.60" r="2.3" fill="#a5db36"/>
<circle cx="131.38" cy="280.80" r="2.3" fill="#bddf26"/>
<circle cx="131.22" cy="280.00" r="2.3" fill="#d2e21b"/>
<circle cx="131.06" cy="279.20" r="2.3" fill="#eae51a"/>
<circle cx="130.90" cy="278.40" r="2.8" fill="#fde725"/>
<rect x="57.3" y="185.6" width="174.5" height="190.29999999999998" fill="none" stroke="#808080" stroke-width="1.1"/>
<line x1="54.70" y1="198.30" x2="57.30" y2="198.30" stroke="#333" stroke-width="0.8" />
<text x="52.60" y="201.80" font-size="9.8" fill="#222" text-anchor="end" stroke="#222" stroke-width="0.22" textLength="24.30" lengthAdjust="spacingAndGlyphs" >−100</text>
<line x1="54.70" y1="231.80" x2="57.30" y2="231.80" stroke="#333" stroke-width="0.8" />
<text x="52.60" y="235.30" font-size="9.8" fill="#222" text-anchor="end" stroke="#222" stroke-width="0.22" textLength="18.60" lengthAdjust="spacingAndGlyphs" >−50</text>
<line x1="54.70" y1="265.30" x2="57.30" y2="265.30" stroke="#333" stroke-width="0.8" />
<text x="52.60" y="268.80" font-size="9.8" fill="#222" text-anchor="end" stroke="#222" stroke-width="0.22" textLength="5.60" lengthAdjust="spacingAndGlyphs" >0</text>
<line x1="54.70" y1="298.80" x2="57.30" y2="298.80" stroke="#333" stroke-width="0.8" />
<text x="52.60" y="302.30" font-size="9.8" fill="#222" text-anchor="end" stroke="#222" stroke-width="0.22" textLength="11.20" lengthAdjust="spacingAndGlyphs" >50</text>
<line x1="54.70" y1="332.30" x2="57.30" y2="332.30" stroke="#333" stroke-width="0.8" />
<text x="52.60" y="335.80" font-size="9.8" fill="#222" text-anchor="end" stroke="#222" stroke-width="0.22" textLength="16.90" lengthAdjust="spacingAndGlyphs" >100</text>
<line x1="54.70" y1="365.80" x2="57.30" y2="365.80" stroke="#333" stroke-width="0.8" />
<text x="52.60" y="369.30" font-size="9.8" fill="#222" text-anchor="end" stroke="#222" stroke-width="0.22" textLength="16.90" lengthAdjust="spacingAndGlyphs" >150</text>
<line x1="79.60" y1="375.90" x2="79.60" y2="378.50" stroke="#333" stroke-width="0.8" />
<text x="79.60" y="388.30" font-size="9.6" fill="#222" text-anchor="middle" stroke="#222" stroke-width="0.22" textLength="5.60" lengthAdjust="spacingAndGlyphs" >0</text>
<line x1="113.17" y1="375.90" x2="113.17" y2="378.50" stroke="#333" stroke-width="0.8" />
<text x="113.17" y="388.30" font-size="9.6" fill="#222" text-anchor="middle" stroke="#222" stroke-width="0.22" textLength="11.20" lengthAdjust="spacingAndGlyphs" >50</text>
<line x1="146.75" y1="375.90" x2="146.75" y2="378.50" stroke="#333" stroke-width="0.8" />
<text x="146.75" y="388.30" font-size="9.6" fill="#222" text-anchor="middle" stroke="#222" stroke-width="0.22" textLength="16.90" lengthAdjust="spacingAndGlyphs" >100</text>
<line x1="180.32" y1="375.90" x2="180.32" y2="378.50" stroke="#333" stroke-width="0.8" />
<text x="180.32" y="388.30" font-size="9.6" fill="#222" text-anchor="middle" stroke="#222" stroke-width="0.22" textLength="16.90" lengthAdjust="spacingAndGlyphs" >150</text>
<line x1="213.90" y1="375.90" x2="213.90" y2="378.50" stroke="#333" stroke-width="0.8" />
<text x="213.90" y="388.30" font-size="9.6" fill="#222" text-anchor="middle" stroke="#222" stroke-width="0.22" textLength="16.90" lengthAdjust="spacingAndGlyphs" >200</text>
<text x="130.20" y="399.30" font-size="9.6" fill="#222" text-anchor="start" stroke="#222" stroke-width="0.22" textLength="29.50" lengthAdjust="spacingAndGlyphs" ><tspan font-style="italic">X</tspan> (nm)</text>
<text x="29.60" y="282.20" font-size="9.6" fill="#222" text-anchor="middle" stroke="#222" stroke-width="0.22" textLength="28.50" lengthAdjust="spacingAndGlyphs" transform="rotate(-90 29.60 282.20)" ><tspan font-style="italic">Y</tspan> (nm)</text>
<defs><linearGradient id="vgrad" x1="0" y1="1" x2="0" y2="0"><stop offset="0.000" stop-color="#440154"/><stop offset="0.050" stop-color="#471365"/><stop offset="0.100" stop-color="#482475"/><stop offset="0.150" stop-color="#463480"/><stop offset="0.200" stop-color="#414487"/><stop offset="0.250" stop-color="#3b528b"/><stop offset="0.300" stop-color="#355f8d"/><stop offset="0.350" stop-color="#2f6c8e"/><stop offset="0.400" stop-color="#2a788e"/><stop offset="0.450" stop-color="#25848e"/><stop offset="0.500" stop-color="#21918c"/><stop offset="0.550" stop-color="#1e9c89"/><stop offset="0.600" stop-color="#22a884"/><stop offset="0.650" stop-color="#2fb47c"/><stop offset="0.700" stop-color="#44bf70"/><stop offset="0.750" stop-color="#5ec962"/><stop offset="0.800" stop-color="#7ad151"/><stop offset="0.850" stop-color="#9bd93c"/><stop offset="0.900" stop-color="#bddf26"/><stop offset="0.950" stop-color="#dfe318"/><stop offset="1.000" stop-color="#fde725"/></linearGradient></defs>
<rect x="235.3" y="185.4" width="10.399999999999977" height="191.1" fill="url(#vgrad)" stroke="#444" stroke-width="0.8"/>
<line x1="245.70" y1="350.70" x2="248.10" y2="350.70" stroke="#333" stroke-width="0.8" />
<text x="248.00" y="353.80" font-size="8.8" fill="#222" text-anchor="start" stroke="#222" stroke-width="0.22" textLength="10.40" lengthAdjust="spacingAndGlyphs" >20</text>
<line x1="245.70" y1="321.70" x2="248.10" y2="321.70" stroke="#333" stroke-width="0.8" />
<text x="248.00" y="324.80" font-size="8.8" fill="#222" text-anchor="start" stroke="#222" stroke-width="0.22" textLength="10.40" lengthAdjust="spacingAndGlyphs" >30</text>
<line x1="245.70" y1="292.70" x2="248.10" y2="292.70" stroke="#333" stroke-width="0.8" />
<text x="248.00" y="295.80" font-size="8.8" fill="#222" text-anchor="start" stroke="#222" stroke-width="0.22" textLength="10.40" lengthAdjust="spacingAndGlyphs" >40</text>
<line x1="245.70" y1="263.70" x2="248.10" y2="263.70" stroke="#333" stroke-width="0.8" />
<text x="248.00" y="266.80" font-size="8.8" fill="#222" text-anchor="start" stroke="#222" stroke-width="0.22" textLength="10.40" lengthAdjust="spacingAndGlyphs" >50</text>
<line x1="245.70" y1="234.70" x2="248.10" y2="234.70" stroke="#333" stroke-width="0.8" />
<text x="248.00" y="237.80" font-size="8.8" fill="#222" text-anchor="start" stroke="#222" stroke-width="0.22" textLength="10.40" lengthAdjust="spacingAndGlyphs" >60</text>
<line x1="245.70" y1="205.70" x2="248.10" y2="205.70" stroke="#333" stroke-width="0.8" />
<text x="248.00" y="208.80" font-size="8.8" fill="#222" text-anchor="start" stroke="#222" stroke-width="0.22" textLength="10.40" lengthAdjust="spacingAndGlyphs" >70</text>
<text x="262.50" y="280.00" font-size="10.5" fill="#222" text-anchor="middle" stroke="#222" stroke-width="0.22" textLength="40.50" lengthAdjust="spacingAndGlyphs" transform="rotate(90 262.50 280.00)" >Time (s)</text>
<g stroke="#7fb3da" stroke-width="0.9"><line x1="341.78" y1="338.80" x2="341.78" y2="347.80"/><line x1="340.18" y1="338.80" x2="343.38" y2="338.80"/><line x1="340.18" y1="347.80" x2="343.38" y2="347.80"/><line x1="350.86" y1="323.50" x2="350.86" y2="332.50"/><line x1="349.26" y1="323.50" x2="352.46" y2="323.50"/><line x1="349.26" y1="332.50" x2="352.46" y2="332.50"/><line x1="359.94" y1="307.00" x2="359.94" y2="316.00"/><line x1="358.34" y1="307.00" x2="361.54" y2="307.00"/><line x1="358.34" y1="316.00" x2="361.54" y2="316.00"/><line x1="369.02" y1="293.70" x2="369.02" y2="302.70"/><line x1="367.42" y1="293.70" x2="370.62" y2="293.70"/><line x1="367.42" y1="302.70" x2="370.62" y2="302.70"/><line x1="378.10" y1="292.40" x2="378.10" y2="301.40"/><line x1="376.50" y1="292.40" x2="379.70" y2="292.40"/><line x1="376.50" y1="301.40" x2="379.70" y2="301.40"/><line x1="387.18" y1="283.70" x2="387.18" y2="292.70"/><line x1="385.58" y1="283.70" x2="388.78" y2="283.70"/><line x1="385.58" y1="292.70" x2="388.78" y2="292.70"/><line x1="396.26" y1="282.90" x2="396.26" y2="291.90"/><line x1="394.66" y1="282.90" x2="397.86" y2="282.90"/><line x1="394.66" y1="291.90" x2="397.86" y2="291.90"/><line x1="405.34" y1="281.10" x2="405.34" y2="290.10"/><line x1="403.74" y1="281.10" x2="406.94" y2="281.10"/><line x1="403.74" y1="290.10" x2="406.94" y2="290.10"/><line x1="414.42" y1="281.40" x2="414.42" y2="290.40"/><line x1="412.82" y1="281.40" x2="416.02" y2="281.40"/><line x1="412.82" y1="290.40" x2="416.02" y2="290.40"/><line x1="423.50" y1="273.20" x2="423.50" y2="282.20"/><line x1="421.90" y1="273.20" x2="425.10" y2="273.20"/><line x1="421.90" y1="282.20" x2="425.10" y2="282.20"/><line x1="432.58" y1="273.60" x2="432.58" y2="282.60"/><line x1="430.98" y1="273.60" x2="434.18" y2="273.60"/><line x1="430.98" y1="282.60" x2="434.18" y2="282.60"/><line x1="441.66" y1="260.20" x2="441.66" y2="269.20"/><line x1="440.06" y1="260.20" x2="443.26" y2="260.20"/><line x1="440.06" y1="269.20" x2="443.26" y2="269.20"/><line x1="450.74" y1="264.20" x2="450.74" y2="273.20"/><line x1="449.14" y1="264.20" x2="452.34" y2="264.20"/><line x1="449.14" y1="273.20" x2="452.34" y2="273.20"/><line x1="459.82" y1="260.50" x2="459.82" y2="269.50"/><line x1="458.22" y1="260.50" x2="461.42" y2="260.50"/><line x1="458.22" y1="269.50" x2="461.42" y2="269.50"/><line x1="468.90" y1="252.70" x2="468.90" y2="261.70"/><line x1="467.30" y1="252.70" x2="470.50" y2="252.70"/><line x1="467.30" y1="261.70" x2="470.50" y2="261.70"/><line x1="477.98" y1="259.30" x2="477.98" y2="268.30"/><line x1="476.38" y1="259.30" x2="479.58" y2="259.30"/><line x1="476.38" y1="268.30" x2="479.58" y2="268.30"/><line x1="487.06" y1="244.00" x2="487.06" y2="253.00"/><line x1="485.46" y1="244.00" x2="488.66" y2="244.00"/><line x1="485.46" y1="253.00" x2="488.66" y2="253.00"/><line x1="496.14" y1="234.70" x2="496.14" y2="243.70"/><line x1="494.54" y1="234.70" x2="497.74" y2="234.70"/><line x1="494.54" y1="243.70" x2="497.74" y2="243.70"/><line x1="505.22" y1="240.30" x2="505.22" y2="249.30"/><line x1="503.62" y1="240.30" x2="506.82" y2="240.30"/><line x1="503.62" y1="249.30" x2="506.82" y2="249.30"/><line x1="514.30" y1="228.70" x2="514.30" y2="237.70"/><line x1="512.70" y1="228.70" x2="515.90" y2="228.70"/><line x1="512.70" y1="237.70" x2="515.90" y2="237.70"/><line x1="523.38" y1="238.20" x2="523.38" y2="247.20"/><line x1="521.78" y1="238.20" x2="524.98" y2="238.20"/><line x1="521.78" y1="247.20" x2="524.98" y2="247.20"/><line x1="532.46" y1="228.40" x2="532.46" y2="237.40"/><line x1="530.86" y1="228.40" x2="534.06" y2="228.40"/><line x1="530.86" y1="237.40" x2="534.06" y2="237.40"/><line x1="541.54" y1="229.90" x2="541.54" y2="238.90"/><line x1="539.94" y1="229.90" x2="543.14" y2="229.90"/><line x1="539.94" y1="238.90" x2="543.14" y2="238.90"/><line x1="550.62" y1="218.70" x2="550.62" y2="227.70"/><line x1="549.02" y1="218.70" x2="552.22" y2="218.70"/><line x1="549.02" y1="227.70" x2="552.22" y2="227.70"/><line x1="559.70" y1="218.70" x2="559.70" y2="227.70"/><line x1="558.10" y1="218.70" x2="561.30" y2="218.70"/><line x1="558.10" y1="227.70" x2="561.30" y2="227.70"/><line x1="568.78" y1="218.70" x2="568.78" y2="227.70"/><line x1="567.18" y1="218.70" x2="570.38" y2="218.70"/><line x1="567.18" y1="227.70" x2="570.38" y2="227.70"/><line x1="577.86" y1="211.20" x2="577.86" y2="220.20"/><line x1="576.26" y1="211.20" x2="579.46" y2="211.20"/><line x1="576.26" y1="220.20" x2="579.46" y2="220.20"/><line x1="586.94" y1="210.00" x2="586.94" y2="219.00"/><line x1="585.34" y1="210.00" x2="588.54" y2="210.00"/><line x1="585.34" y1="219.00" x2="588.54" y2="219.00"/><line x1="596.02" y1="210.50" x2="596.02" y2="219.50"/><line x1="594.42" y1="210.50" x2="597.62" y2="210.50"/><line x1="594.42" y1="219.50" x2="597.62" y2="219.50"/><line x1="605.10" y1="208.70" x2="605.10" y2="217.70"/><line x1="603.50" y1="208.70" x2="606.70" y2="208.70"/><line x1="603.50" y1="217.70" x2="606.70" y2="217.70"/></g>
<polyline points="332.70,357.90 341.78,343.30 350.86,328.00 359.94,311.50 369.02,298.20 378.10,296.90 387.18,288.20 396.26,287.40 405.34,285.60 414.42,285.90 423.50,277.70 432.58,278.10 441.66,264.70 450.74,268.70 459.82,265.00 468.90,257.20 477.98,263.80 487.06,248.50 496.14,239.20 505.22,244.80 514.30,233.20 523.38,242.70 532.46,232.90 541.54,234.40 550.62,223.20 559.70,223.20 568.78,223.20 577.86,215.70 586.94,214.50 596.02,215.00 605.10,213.20" fill="none" stroke="#3a86c2" stroke-width="1.9" stroke-linejoin="round"/>
<g fill="#3a86c2"><circle cx="332.70" cy="357.90" r="2.4"/><circle cx="341.78" cy="343.30" r="2.4"/><circle cx="350.86" cy="328.00" r="2.4"/><circle cx="359.94" cy="311.50" r="2.4"/><circle cx="369.02" cy="298.20" r="2.4"/><circle cx="378.10" cy="296.90" r="2.4"/><circle cx="387.18" cy="288.20" r="2.4"/><circle cx="396.26" cy="287.40" r="2.4"/><circle cx="405.34" cy="285.60" r="2.4"/><circle cx="414.42" cy="285.90" r="2.4"/><circle cx="423.50" cy="277.70" r="2.4"/><circle cx="432.58" cy="278.10" r="2.4"/><circle cx="441.66" cy="264.70" r="2.4"/><circle cx="450.74" cy="268.70" r="2.4"/><circle cx="459.82" cy="265.00" r="2.4"/><circle cx="468.90" cy="257.20" r="2.4"/><circle cx="477.98" cy="263.80" r="2.4"/><circle cx="487.06" cy="248.50" r="2.4"/><circle cx="496.14" cy="239.20" r="2.4"/><circle cx="505.22" cy="244.80" r="2.4"/><circle cx="514.30" cy="233.20" r="2.4"/><circle cx="523.38" cy="242.70" r="2.4"/><circle cx="532.46" cy="232.90" r="2.4"/><circle cx="541.54" cy="234.40" r="2.4"/><circle cx="550.62" cy="223.20" r="2.4"/><circle cx="559.70" cy="223.20" r="2.4"/><circle cx="568.78" cy="223.20" r="2.4"/><circle cx="577.86" cy="215.70" r="2.4"/><circle cx="586.94" cy="214.50" r="2.4"/><circle cx="596.02" cy="215.00" r="2.4"/><circle cx="605.10" cy="213.20" r="2.4"/></g>
<g stroke="#9dd29d" stroke-width="0.9"><line x1="341.78" y1="212.90" x2="341.78" y2="255.90"/><line x1="340.18" y1="212.90" x2="343.38" y2="212.90"/><line x1="340.18" y1="255.90" x2="343.38" y2="255.90"/><line x1="350.86" y1="208.40" x2="350.86" y2="251.40"/><line x1="349.26" y1="208.40" x2="352.46" y2="208.40"/><line x1="349.26" y1="251.40" x2="352.46" y2="251.40"/><line x1="359.94" y1="215.90" x2="359.94" y2="258.90"/><line x1="358.34" y1="215.90" x2="361.54" y2="215.90"/><line x1="358.34" y1="258.90" x2="361.54" y2="258.90"/><line x1="369.02" y1="266.40" x2="369.02" y2="309.40"/><line x1="367.42" y1="266.40" x2="370.62" y2="266.40"/><line x1="367.42" y1="309.40" x2="370.62" y2="309.40"/><line x1="378.10" y1="280.10" x2="378.10" y2="323.10"/><line x1="376.50" y1="280.10" x2="379.70" y2="280.10"/><line x1="376.50" y1="323.10" x2="379.70" y2="323.10"/><line x1="387.18" y1="281.20" x2="387.18" y2="324.20"/><line x1="385.58" y1="281.20" x2="388.78" y2="281.20"/><line x1="385.58" y1="324.20" x2="388.78" y2="324.20"/><line x1="396.26" y1="305.30" x2="396.26" y2="348.30"/><line x1="394.66" y1="305.30" x2="397.86" y2="305.30"/><line x1="394.66" y1="348.30" x2="397.86" y2="348.30"/><line x1="405.34" y1="309.70" x2="405.34" y2="352.70"/><line x1="403.74" y1="309.70" x2="406.94" y2="309.70"/><line x1="403.74" y1="352.70" x2="406.94" y2="352.70"/><line x1="414.42" y1="287.20" x2="414.42" y2="330.20"/><line x1="412.82" y1="287.20" x2="416.02" y2="287.20"/><line x1="412.82" y1="330.20" x2="416.02" y2="330.20"/><line x1="423.50" y1="287.20" x2="423.50" y2="330.20"/><line x1="421.90" y1="287.20" x2="425.10" y2="287.20"/><line x1="421.90" y1="330.20" x2="425.10" y2="330.20"/><line x1="432.58" y1="270.70" x2="432.58" y2="313.70"/><line x1="430.98" y1="270.70" x2="434.18" y2="270.70"/><line x1="430.98" y1="313.70" x2="434.18" y2="313.70"/><line x1="441.66" y1="282.10" x2="441.66" y2="325.10"/><line x1="440.06" y1="282.10" x2="443.26" y2="282.10"/><line x1="440.06" y1="325.10" x2="443.26" y2="325.10"/><line x1="450.74" y1="315.00" x2="450.74" y2="358.00"/><line x1="449.14" y1="315.00" x2="452.34" y2="315.00"/><line x1="449.14" y1="358.00" x2="452.34" y2="358.00"/><line x1="459.82" y1="276.70" x2="459.82" y2="319.70"/><line x1="458.22" y1="276.70" x2="461.42" y2="276.70"/><line x1="458.22" y1="319.70" x2="461.42" y2="319.70"/><line x1="468.90" y1="310.10" x2="468.90" y2="353.10"/><line x1="467.30" y1="310.10" x2="470.50" y2="310.10"/><line x1="467.30" y1="353.10" x2="470.50" y2="353.10"/><line x1="477.98" y1="281.50" x2="477.98" y2="324.50"/><line x1="476.38" y1="281.50" x2="479.58" y2="281.50"/><line x1="476.38" y1="324.50" x2="479.58" y2="324.50"/><line x1="487.06" y1="231.50" x2="487.06" y2="274.50"/><line x1="485.46" y1="231.50" x2="488.66" y2="231.50"/><line x1="485.46" y1="274.50" x2="488.66" y2="274.50"/><line x1="496.14" y1="305.10" x2="496.14" y2="348.10"/><line x1="494.54" y1="305.10" x2="497.74" y2="305.10"/><line x1="494.54" y1="348.10" x2="497.74" y2="348.10"/><line x1="505.22" y1="294.10" x2="505.22" y2="337.10"/><line x1="503.62" y1="294.10" x2="506.82" y2="294.10"/><line x1="503.62" y1="337.10" x2="506.82" y2="337.10"/><line x1="514.30" y1="306.00" x2="514.30" y2="349.00"/><line x1="512.70" y1="306.00" x2="515.90" y2="306.00"/><line x1="512.70" y1="349.00" x2="515.90" y2="349.00"/><line x1="523.38" y1="313.40" x2="523.38" y2="356.40"/><line x1="521.78" y1="313.40" x2="524.98" y2="313.40"/><line x1="521.78" y1="356.40" x2="524.98" y2="356.40"/><line x1="532.46" y1="286.20" x2="532.46" y2="329.20"/><line x1="530.86" y1="286.20" x2="534.06" y2="286.20"/><line x1="530.86" y1="329.20" x2="534.06" y2="329.20"/><line x1="541.54" y1="281.00" x2="541.54" y2="324.00"/><line x1="539.94" y1="281.00" x2="543.14" y2="281.00"/><line x1="539.94" y1="324.00" x2="543.14" y2="324.00"/><line x1="550.62" y1="276.90" x2="550.62" y2="319.90"/><line x1="549.02" y1="276.90" x2="552.22" y2="276.90"/><line x1="549.02" y1="319.90" x2="552.22" y2="319.90"/><line x1="559.70" y1="313.40" x2="559.70" y2="356.40"/><line x1="558.10" y1="313.40" x2="561.30" y2="313.40"/><line x1="558.10" y1="356.40" x2="561.30" y2="356.40"/><line x1="568.78" y1="289.50" x2="568.78" y2="332.50"/><line x1="567.18" y1="289.50" x2="570.38" y2="289.50"/><line x1="567.18" y1="332.50" x2="570.38" y2="332.50"/><line x1="577.86" y1="285.30" x2="577.86" y2="328.30"/><line x1="576.26" y1="285.30" x2="579.46" y2="285.30"/><line x1="576.26" y1="328.30" x2="579.46" y2="328.30"/><line x1="586.94" y1="310.30" x2="586.94" y2="353.30"/><line x1="585.34" y1="310.30" x2="588.54" y2="310.30"/><line x1="585.34" y1="353.30" x2="588.54" y2="353.30"/><line x1="596.02" y1="308.90" x2="596.02" y2="351.90"/><line x1="594.42" y1="308.90" x2="597.62" y2="308.90"/><line x1="594.42" y1="351.90" x2="597.62" y2="351.90"/></g>
<polyline points="341.78,234.40 350.86,229.90 359.94,237.40 369.02,287.90 378.10,301.60 387.18,302.70 396.26,326.80 405.34,331.20 414.42,308.70 423.50,308.70 432.58,292.20 441.66,303.60 450.74,336.50 459.82,298.20 468.90,331.60 477.98,303.00 487.06,253.00 496.14,326.60 505.22,315.60 514.30,327.50 523.38,334.90 532.46,307.70 541.54,302.50 550.62,298.40 559.70,334.90 568.78,311.00 577.86,306.80 586.94,331.80 596.02,330.40" fill="none" stroke="#52b152" stroke-width="1.9" stroke-linejoin="round"/>
<g fill="#52b152"><rect x="339.63" y="232.25" width="4.3" height="4.3"/><rect x="348.71" y="227.75" width="4.3" height="4.3"/><rect x="357.79" y="235.25" width="4.3" height="4.3"/><rect x="366.87" y="285.75" width="4.3" height="4.3"/><rect x="375.95" y="299.45" width="4.3" height="4.3"/><rect x="385.03" y="300.55" width="4.3" height="4.3"/><rect x="394.11" y="324.65" width="4.3" height="4.3"/><rect x="403.19" y="329.05" width="4.3" height="4.3"/><rect x="412.27" y="306.55" width="4.3" height="4.3"/><rect x="421.35" y="306.55" width="4.3" height="4.3"/><rect x="430.43" y="290.05" width="4.3" height="4.3"/><rect x="439.51" y="301.45" width="4.3" height="4.3"/><rect x="448.59" y="334.35" width="4.3" height="4.3"/><rect x="457.67" y="296.05" width="4.3" height="4.3"/><rect x="466.75" y="329.45" width="4.3" height="4.3"/><rect x="475.83" y="300.85" width="4.3" height="4.3"/><rect x="484.91" y="250.85" width="4.3" height="4.3"/><rect x="493.99" y="324.45" width="4.3" height="4.3"/><rect x="503.07" y="313.45" width="4.3" height="4.3"/><rect x="512.15" y="325.35" width="4.3" height="4.3"/><rect x="521.23" y="332.75" width="4.3" height="4.3"/><rect x="530.31" y="305.55" width="4.3" height="4.3"/><rect x="539.39" y="300.35" width="4.3" height="4.3"/><rect x="548.47" y="296.25" width="4.3" height="4.3"/><rect x="557.55" y="332.75" width="4.3" height="4.3"/><rect x="566.63" y="308.85" width="4.3" height="4.3"/><rect x="575.71" y="304.65" width="4.3" height="4.3"/><rect x="584.79" y="329.65" width="4.3" height="4.3"/><rect x="593.87" y="328.25" width="4.3" height="4.3"/></g>
<polyline points="332.70,316.90 341.78,298.20 350.86,256.50 359.94,244.50 369.02,217.20 378.10,209.20 387.18,249.40 396.26,222.10 405.34,223.10 414.42,237.40 423.50,254.20 432.58,246.20 441.66,246.40 450.74,248.70 459.82,255.10 468.90,263.50 477.98,256.40 487.06,292.40 496.14,323.00 505.22,310.20 514.30,308.60 523.38,310.40 532.46,310.20 541.54,347.20 550.62,356.40 559.70,357.60 568.78,325.50 577.86,320.90 586.94,315.60 596.02,326.10 605.10,333.20" fill="none" stroke="#dc4a4c" stroke-width="1.9" stroke-linejoin="round"/>
<g fill="#dc4a4c"><polygon points="332.70,314.00 335.40,318.70 330.00,318.70"/><polygon points="341.78,295.30 344.48,300.00 339.08,300.00"/><polygon points="350.86,253.60 353.56,258.30 348.16,258.30"/><polygon points="359.94,241.60 362.64,246.30 357.24,246.30"/><polygon points="369.02,214.30 371.72,219.00 366.32,219.00"/><polygon points="378.10,206.30 380.80,211.00 375.40,211.00"/><polygon points="387.18,246.50 389.88,251.20 384.48,251.20"/><polygon points="396.26,219.20 398.96,223.90 393.56,223.90"/><polygon points="405.34,220.20 408.04,224.90 402.64,224.90"/><polygon points="414.42,234.50 417.12,239.20 411.72,239.20"/><polygon points="423.50,251.30 426.20,256.00 420.80,256.00"/><polygon points="432.58,243.30 435.28,248.00 429.88,248.00"/><polygon points="441.66,243.50 444.36,248.20 438.96,248.20"/><polygon points="450.74,245.80 453.44,250.50 448.04,250.50"/><polygon points="459.82,252.20 462.52,256.90 457.12,256.90"/><polygon points="468.90,260.60 471.60,265.30 466.20,265.30"/><polygon points="477.98,253.50 480.68,258.20 475.28,258.20"/><polygon points="487.06,289.50 489.76,294.20 484.36,294.20"/><polygon points="496.14,320.10 498.84,324.80 493.44,324.80"/><polygon points="505.22,307.30 507.92,312.00 502.52,312.00"/><polygon points="514.30,305.70 517.00,310.40 511.60,310.40"/><polygon points="523.38,307.50 526.08,312.20 520.68,312.20"/><polygon points="532.46,307.30 535.16,312.00 529.76,312.00"/><polygon points="541.54,344.30 544.24,349.00 538.84,349.00"/><polygon points="550.62,353.50 553.32,358.20 547.92,358.20"/><polygon points="559.70,354.70 562.40,359.40 557.00,359.40"/><polygon points="568.78,322.60 571.48,327.30 566.08,327.30"/><polygon points="577.86,318.00 580.56,322.70 575.16,322.70"/><polygon points="586.94,312.70 589.64,317.40 584.24,317.40"/><polygon points="596.02,323.20 598.72,327.90 593.32,327.90"/><polygon points="605.10,330.30 607.80,335.00 602.40,335.00"/></g>
<line x1="319.4" y1="201.3" x2="618.4" y2="201.3" stroke="#a9a9a9" stroke-width="1.3"/>
<line x1="319.4" y1="200.70000000000002" x2="319.4" y2="366.0" stroke="#444" stroke-width="1.2"/>
<line x1="319.4" y1="365.4" x2="618.4" y2="365.4" stroke="#444" stroke-width="1.2"/>
<line x1="618.4" y1="200.70000000000002" x2="618.4" y2="366.0" stroke="#4caf50" stroke-width="1.2"/>
<line x1="656.5" y1="200.70000000000002" x2="656.5" y2="366.0" stroke="#ea8a8b" stroke-width="1.1"/>
<line x1="316.9" y1="358.20" x2="319.4" y2="358.20" stroke="#3a86c2" stroke-width="0.9"/>
<text x="314.30" y="361.20" font-size="8.8" fill="#3a86c2" text-anchor="end" stroke="#3a86c2" stroke-width="0.22" textLength="5.22" lengthAdjust="spacingAndGlyphs" >0</text>
<line x1="316.9" y1="338.91" x2="319.4" y2="338.91" stroke="#3a86c2" stroke-width="0.9"/>
<text x="314.30" y="341.91" font-size="8.8" fill="#3a86c2" text-anchor="end" stroke="#3a86c2" stroke-width="0.22" textLength="5.22" lengthAdjust="spacingAndGlyphs" >5</text>
<line x1="316.9" y1="319.62" x2="319.4" y2="319.62" stroke="#3a86c2" stroke-width="0.9"/>
<text x="314.30" y="322.62" font-size="8.8" fill="#3a86c2" text-anchor="end" stroke="#3a86c2" stroke-width="0.22" textLength="10.43" lengthAdjust="spacingAndGlyphs" >10</text>
<line x1="316.9" y1="300.34" x2="319.4" y2="300.34" stroke="#3a86c2" stroke-width="0.9"/>
<text x="314.30" y="303.34" font-size="8.8" fill="#3a86c2" text-anchor="end" stroke="#3a86c2" stroke-width="0.22" textLength="10.43" lengthAdjust="spacingAndGlyphs" >15</text>
<line x1="316.9" y1="281.05" x2="319.4" y2="281.05" stroke="#3a86c2" stroke-width="0.9"/>
<text x="314.30" y="284.05" font-size="8.8" fill="#3a86c2" text-anchor="end" stroke="#3a86c2" stroke-width="0.22" textLength="10.43" lengthAdjust="spacingAndGlyphs" >20</text>
<line x1="316.9" y1="261.76" x2="319.4" y2="261.76" stroke="#3a86c2" stroke-width="0.9"/>
<text x="314.30" y="264.76" font-size="8.8" fill="#3a86c2" text-anchor="end" stroke="#3a86c2" stroke-width="0.22" textLength="10.43" lengthAdjust="spacingAndGlyphs" >25</text>
<line x1="316.9" y1="242.47" x2="319.4" y2="242.47" stroke="#3a86c2" stroke-width="0.9"/>
<text x="314.30" y="245.47" font-size="8.8" fill="#3a86c2" text-anchor="end" stroke="#3a86c2" stroke-width="0.22" textLength="10.43" lengthAdjust="spacingAndGlyphs" >30</text>
<line x1="316.9" y1="223.19" x2="319.4" y2="223.19" stroke="#3a86c2" stroke-width="0.9"/>
<text x="314.30" y="226.19" font-size="8.8" fill="#3a86c2" text-anchor="end" stroke="#3a86c2" stroke-width="0.22" textLength="10.43" lengthAdjust="spacingAndGlyphs" >35</text>
<line x1="316.9" y1="203.90" x2="319.4" y2="203.90" stroke="#3a86c2" stroke-width="0.9"/>
<text x="314.30" y="206.90" font-size="8.8" fill="#3a86c2" text-anchor="end" stroke="#3a86c2" stroke-width="0.22" textLength="10.43" lengthAdjust="spacingAndGlyphs" >40</text>
<line x1="328.40" y1="365.4" x2="328.40" y2="368.4" stroke="#333" stroke-width="1.0"/>
<text x="328.40" y="377.10" font-size="8.8" fill="#222" text-anchor="middle" stroke="#222" stroke-width="0.22" textLength="10.43" lengthAdjust="spacingAndGlyphs" >10</text>
<line x1="369.80" y1="365.4" x2="369.80" y2="368.4" stroke="#333" stroke-width="1.0"/>
<text x="369.80" y="377.10" font-size="8.8" fill="#222" text-anchor="middle" stroke="#222" stroke-width="0.22" textLength="10.43" lengthAdjust="spacingAndGlyphs" >20</text>
<line x1="411.20" y1="365.4" x2="411.20" y2="368.4" stroke="#333" stroke-width="1.0"/>
<text x="411.20" y="377.10" font-size="8.8" fill="#222" text-anchor="middle" stroke="#222" stroke-width="0.22" textLength="10.43" lengthAdjust="spacingAndGlyphs" >30</text>
<line x1="452.60" y1="365.4" x2="452.60" y2="368.4" stroke="#333" stroke-width="1.0"/>
<text x="452.60" y="377.10" font-size="8.8" fill="#222" text-anchor="middle" stroke="#222" stroke-width="0.22" textLength="10.43" lengthAdjust="spacingAndGlyphs" >40</text>
<line x1="494.00" y1="365.4" x2="494.00" y2="368.4" stroke="#333" stroke-width="1.0"/>
<text x="494.00" y="377.10" font-size="8.8" fill="#222" text-anchor="middle" stroke="#222" stroke-width="0.22" textLength="10.43" lengthAdjust="spacingAndGlyphs" >50</text>
<line x1="535.40" y1="365.4" x2="535.40" y2="368.4" stroke="#333" stroke-width="1.0"/>
<text x="535.40" y="377.10" font-size="8.8" fill="#222" text-anchor="middle" stroke="#222" stroke-width="0.22" textLength="10.43" lengthAdjust="spacingAndGlyphs" >60</text>
<line x1="576.80" y1="365.4" x2="576.80" y2="368.4" stroke="#333" stroke-width="1.0"/>
<text x="576.80" y="377.10" font-size="8.8" fill="#222" text-anchor="middle" stroke="#222" stroke-width="0.22" textLength="10.43" lengthAdjust="spacingAndGlyphs" >70</text>
<line x1="618.20" y1="365.4" x2="618.20" y2="368.4" stroke="#333" stroke-width="1.0"/>
<text x="618.20" y="377.10" font-size="8.8" fill="#222" text-anchor="middle" stroke="#222" stroke-width="0.22" textLength="10.43" lengthAdjust="spacingAndGlyphs" >80</text>
<line x1="618.4" y1="364.15" x2="620.9" y2="364.15" stroke="#52b152" stroke-width="0.9"/>
<text x="623.30" y="367.15" font-size="8.8" fill="#4aa84a" text-anchor="start" stroke="#4aa84a" stroke-width="0.22" textLength="19.91" lengthAdjust="spacingAndGlyphs" >−0.5</text>
<line x1="618.4" y1="335.80" x2="620.9" y2="335.80" stroke="#52b152" stroke-width="0.9"/>
<text x="623.30" y="338.80" font-size="8.8" fill="#4aa84a" text-anchor="start" stroke="#4aa84a" stroke-width="0.22" textLength="13.04" lengthAdjust="spacingAndGlyphs" >0.0</text>
<line x1="618.4" y1="307.45" x2="620.9" y2="307.45" stroke="#52b152" stroke-width="0.9"/>
<text x="623.30" y="310.45" font-size="8.8" fill="#4aa84a" text-anchor="start" stroke="#4aa84a" stroke-width="0.22" textLength="13.04" lengthAdjust="spacingAndGlyphs" >0.5</text>
<line x1="618.4" y1="279.10" x2="620.9" y2="279.10" stroke="#52b152" stroke-width="0.9"/>
<text x="623.30" y="282.10" font-size="8.8" fill="#4aa84a" text-anchor="start" stroke="#4aa84a" stroke-width="0.22" textLength="13.04" lengthAdjust="spacingAndGlyphs" >1.0</text>
<line x1="618.4" y1="250.75" x2="620.9" y2="250.75" stroke="#52b152" stroke-width="0.9"/>
<text x="623.30" y="253.75" font-size="8.8" fill="#4aa84a" text-anchor="start" stroke="#4aa84a" stroke-width="0.22" textLength="13.04" lengthAdjust="spacingAndGlyphs" >1.5</text>
<line x1="618.4" y1="222.40" x2="620.9" y2="222.40" stroke="#52b152" stroke-width="0.9"/>
<text x="623.30" y="225.40" font-size="8.8" fill="#4aa84a" text-anchor="start" stroke="#4aa84a" stroke-width="0.22" textLength="13.04" lengthAdjust="spacingAndGlyphs" >2.0</text>
<line x1="656.5" y1="354.40" x2="659" y2="354.40" stroke="#e06466" stroke-width="0.9"/>
<text x="661.20" y="357.40" font-size="8.8" fill="#d9474a" text-anchor="start" stroke="#d9474a" stroke-width="0.22" textLength="12.09" lengthAdjust="spacingAndGlyphs" >−4</text>
<line x1="656.5" y1="335.50" x2="659" y2="335.50" stroke="#e06466" stroke-width="0.9"/>
<text x="661.20" y="338.50" font-size="8.8" fill="#d9474a" text-anchor="start" stroke="#d9474a" stroke-width="0.22" textLength="12.09" lengthAdjust="spacingAndGlyphs" >−2</text>
<line x1="656.5" y1="316.60" x2="659" y2="316.60" stroke="#e06466" stroke-width="0.9"/>
<text x="661.20" y="319.60" font-size="8.8" fill="#d9474a" text-anchor="start" stroke="#d9474a" stroke-width="0.22" textLength="5.22" lengthAdjust="spacingAndGlyphs" >0</text>
<line x1="656.5" y1="297.70" x2="659" y2="297.70" stroke="#e06466" stroke-width="0.9"/>
<text x="661.20" y="300.70" font-size="8.8" fill="#d9474a" text-anchor="start" stroke="#d9474a" stroke-width="0.22" textLength="5.22" lengthAdjust="spacingAndGlyphs" >2</text>
<line x1="656.5" y1="278.80" x2="659" y2="278.80" stroke="#e06466" stroke-width="0.9"/>
<text x="661.20" y="281.80" font-size="8.8" fill="#d9474a" text-anchor="start" stroke="#d9474a" stroke-width="0.22" textLength="5.22" lengthAdjust="spacingAndGlyphs" >4</text>
<line x1="656.5" y1="259.90" x2="659" y2="259.90" stroke="#e06466" stroke-width="0.9"/>
<text x="661.20" y="262.90" font-size="8.8" fill="#d9474a" text-anchor="start" stroke="#d9474a" stroke-width="0.22" textLength="5.22" lengthAdjust="spacingAndGlyphs" >6</text>
<line x1="656.5" y1="241.00" x2="659" y2="241.00" stroke="#e06466" stroke-width="0.9"/>
<text x="661.20" y="244.00" font-size="8.8" fill="#d9474a" text-anchor="start" stroke="#d9474a" stroke-width="0.22" textLength="5.22" lengthAdjust="spacingAndGlyphs" >8</text>
<line x1="656.5" y1="222.10" x2="659" y2="222.10" stroke="#e06466" stroke-width="0.9"/>
<text x="661.20" y="225.10" font-size="8.8" fill="#d9474a" text-anchor="start" stroke="#d9474a" stroke-width="0.22" textLength="10.43" lengthAdjust="spacingAndGlyphs" >10</text>
<line x1="656.5" y1="203.20" x2="659" y2="203.20" stroke="#e06466" stroke-width="0.9"/>
<text x="661.20" y="206.20" font-size="8.8" fill="#d9474a" text-anchor="start" stroke="#d9474a" stroke-width="0.22" textLength="10.43" lengthAdjust="spacingAndGlyphs" >12</text>
<text x="451.00" y="388.00" font-size="9.2" fill="#222" text-anchor="start" stroke="#222" stroke-width="0.22" textLength="35.50" lengthAdjust="spacingAndGlyphs" >Time (s)</text>
<text x="298.40" y="282.50" font-size="9.2" fill="#3a86c2" text-anchor="middle" stroke="#3a86c2" stroke-width="0.22" textLength="84.30" lengthAdjust="spacingAndGlyphs" transform="rotate(-90 298.40 282.50)" >Displacement (nm)</text>
<text x="648.00" y="282.00" font-size="9.2" fill="#4aa84a" text-anchor="middle" stroke="#4aa84a" stroke-width="0.22" textLength="59.70" lengthAdjust="spacingAndGlyphs" transform="rotate(-90 648.00 282.00)" >Speed (nms<tspan font-size="5.4" dy="-3.2">−1</tspan><tspan dy="3.2">)</tspan></text>
<text x="683.90" y="286.40" font-size="9.2" fill="#d9474a" text-anchor="middle" stroke="#d9474a" stroke-width="0.22" textLength="58.70" lengthAdjust="spacingAndGlyphs" transform="rotate(-90 683.90 286.40)" >Rotation ( ° )</text>
<rect x="333.8" y="181.4" width="269.6" height="14.2" rx="2" ry="2" fill="#fff" stroke="#d0d0d0" stroke-width="0.9"/>
<line x1="336.2" y1="187.8" x2="356.2" y2="187.8" stroke="#3a86c2" stroke-width="1.9"/>
<circle cx="346.2" cy="187.8" r="2.1" fill="#3a86c2"/>
<text x="361.70" y="191.10" font-size="8.3" fill="#222" text-anchor="start" stroke="#222" stroke-width="0.22" textLength="73.40" lengthAdjust="spacingAndGlyphs" >Displacement (nm)</text>
<line x1="443.5" y1="187.8" x2="463.3" y2="187.8" stroke="#52b152" stroke-width="1.9"/>
<rect x="451.5" y="185.9" width="3.8" height="3.8" fill="#52b152"/>
<text x="469.00" y="191.10" font-size="8.3" fill="#222" text-anchor="start" stroke="#222" stroke-width="0.22" textLength="51.40" lengthAdjust="spacingAndGlyphs" >Speed (nms<tspan font-size="5.5" dy="-3">−1</tspan><tspan dy="3">)</tspan></text>
<line x1="528.4" y1="187.8" x2="548.6" y2="187.8" stroke="#dc4a4c" stroke-width="1.9"/>
<polygon points="538.5,185.2 540.9,189.4 536.1,189.4" fill="#dc4a4c"/>
<text x="554.10" y="191.10" font-size="8.3" fill="#222" text-anchor="start" stroke="#222" stroke-width="0.22" textLength="46.50" lengthAdjust="spacingAndGlyphs" >Rotation ( ° )</text>
</svg>
</body></html>
